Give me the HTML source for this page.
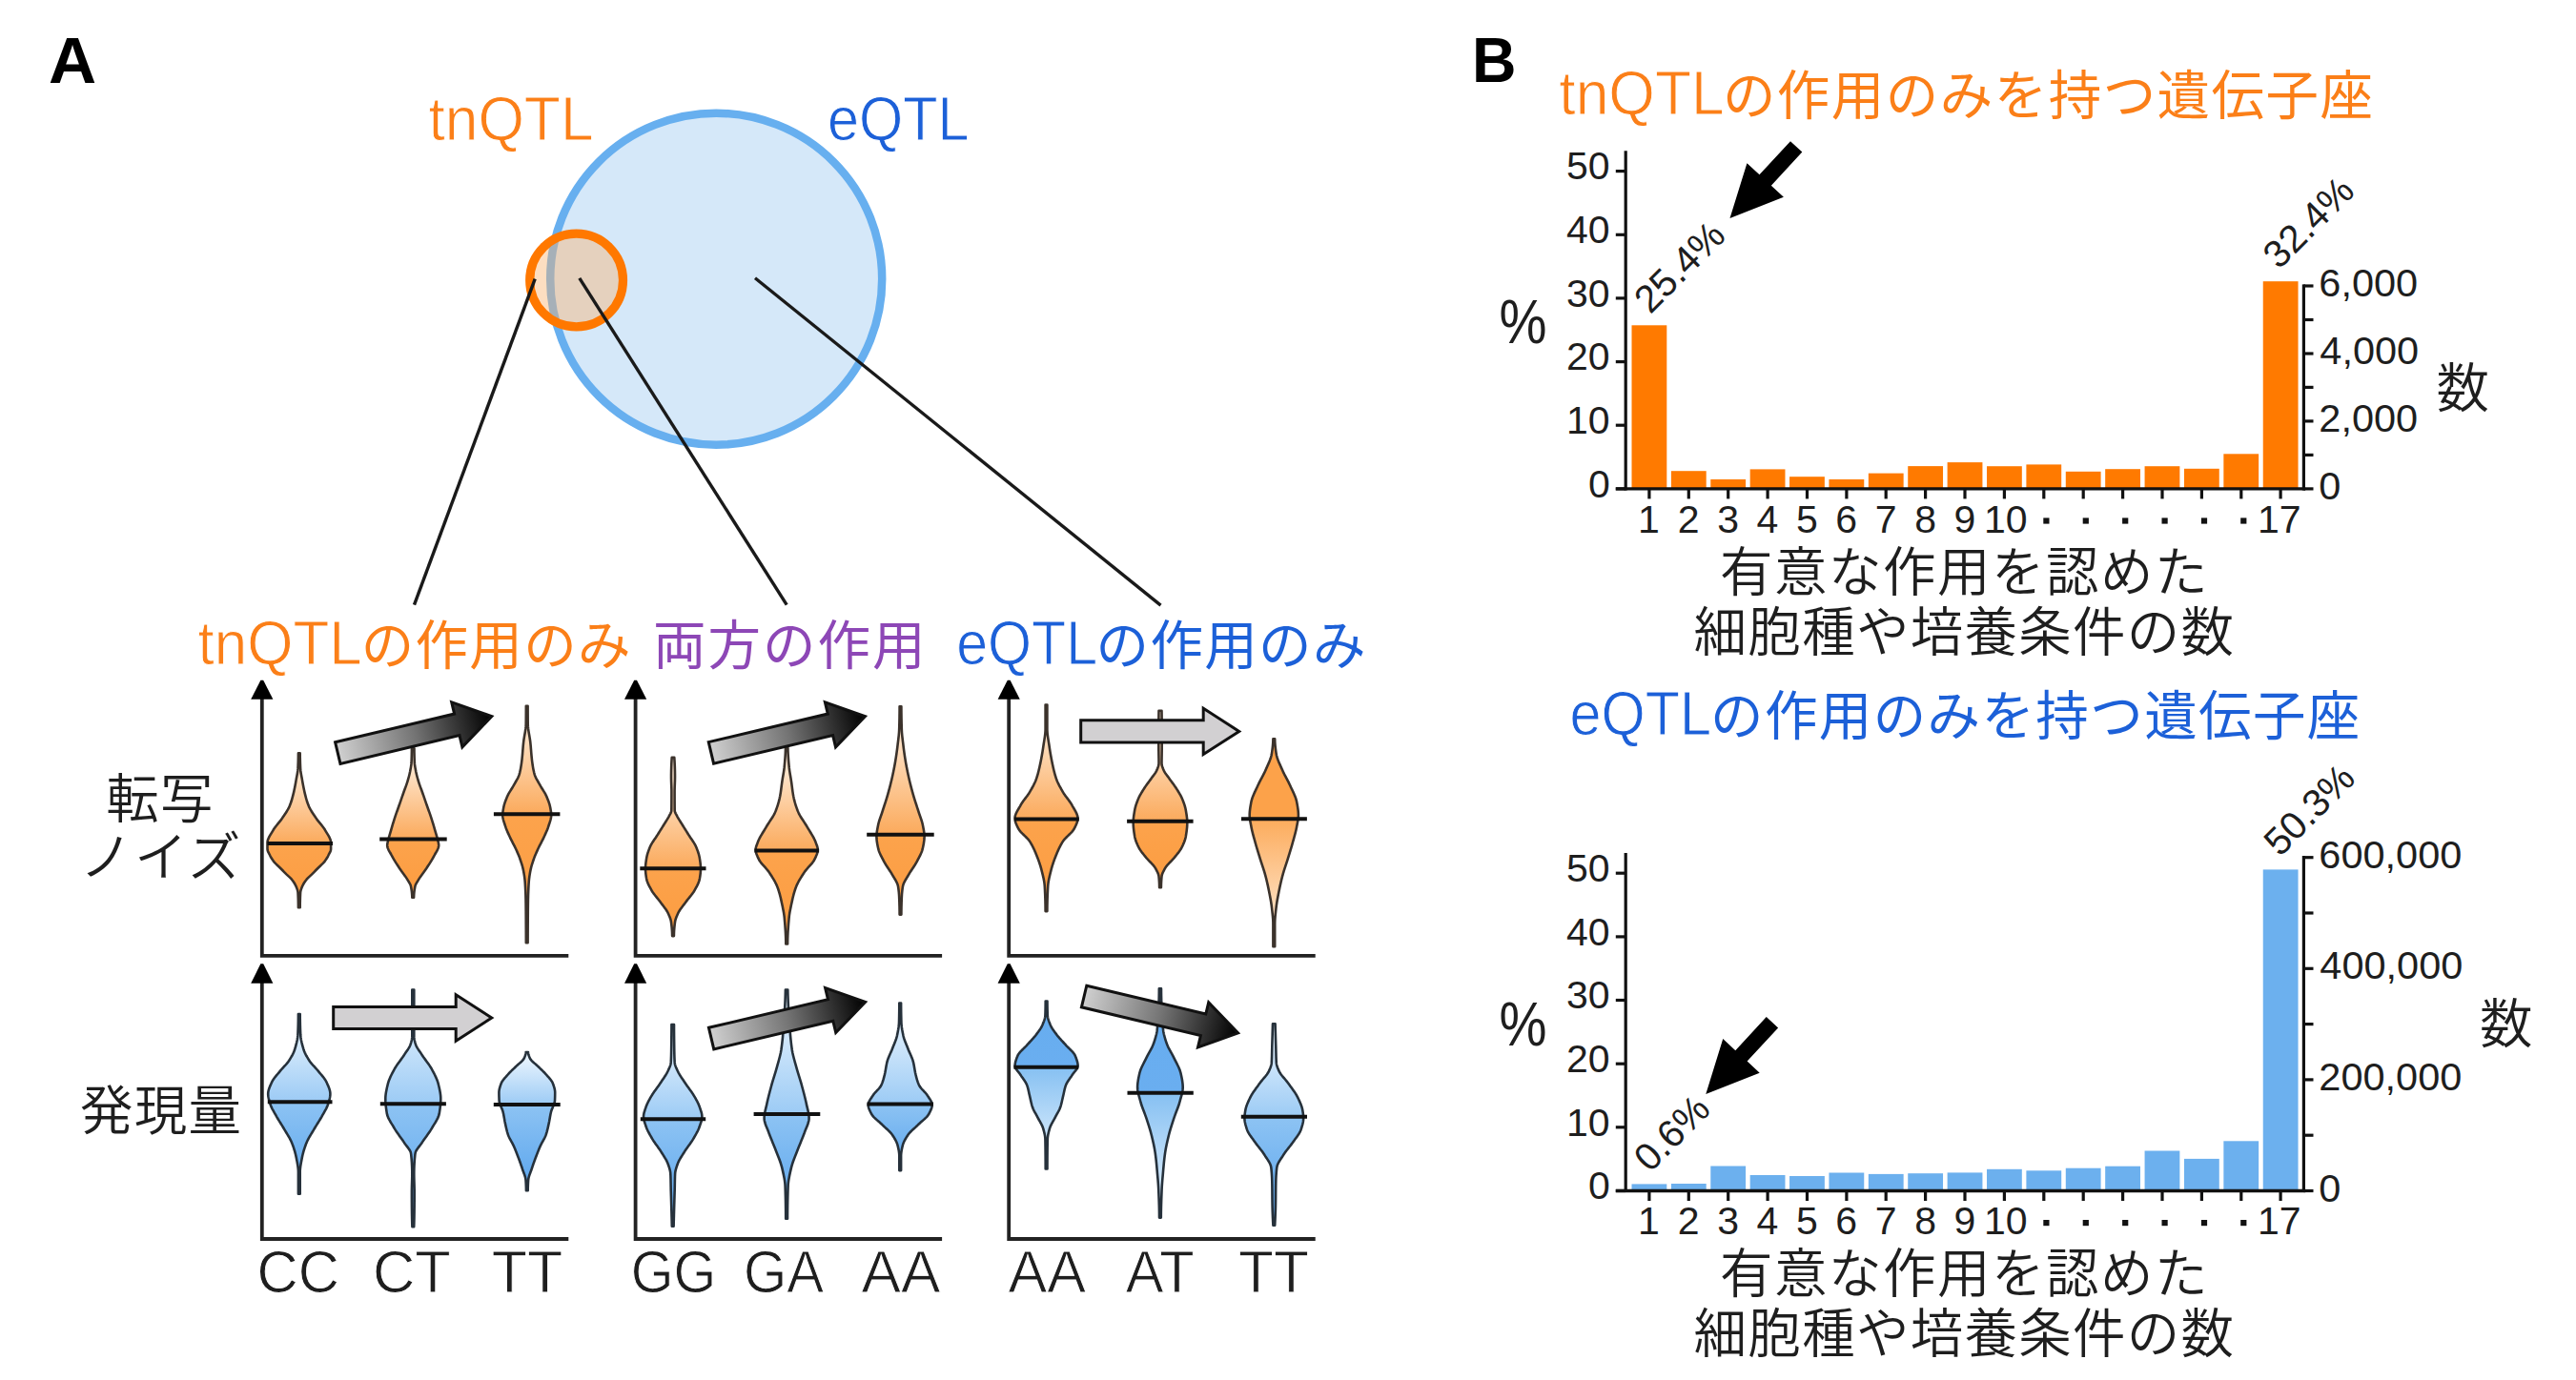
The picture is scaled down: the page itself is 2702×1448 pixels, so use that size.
<!DOCTYPE html>
<html lang="ja"><head><meta charset="utf-8"><title>tnQTL eQTL</title>
<style>html,body{margin:0;padding:0;background:#fff;}svg{display:block;}</style></head>
<body><svg width="2702" height="1448" viewBox="0 0 2702 1448">
<defs><linearGradient id="g1" gradientUnits="userSpaceOnUse" x1="0" y1="790.4" x2="0" y2="952.2"><stop offset="0.0000" stop-color="#ffeedd"/><stop offset="0.1462" stop-color="#fee3c8"/><stop offset="0.5847" stop-color="#fbaa5c"/><stop offset="0.5857" stop-color="#fca34c"/><stop offset="1.0000" stop-color="#fc9c40"/></linearGradient><linearGradient id="g2" gradientUnits="userSpaceOnUse" x1="0" y1="785.2" x2="0" y2="941.8"><stop offset="0.0000" stop-color="#ffeedd"/><stop offset="0.1520" stop-color="#fee3c8"/><stop offset="0.6079" stop-color="#fbaa5c"/><stop offset="0.6089" stop-color="#fca34c"/><stop offset="1.0000" stop-color="#fc9c40"/></linearGradient><linearGradient id="g3" gradientUnits="userSpaceOnUse" x1="0" y1="740.8" x2="0" y2="989.2"><stop offset="0.0000" stop-color="#ffeedd"/><stop offset="0.1141" stop-color="#fee3c8"/><stop offset="0.4565" stop-color="#fbaa5c"/><stop offset="0.4575" stop-color="#fca34c"/><stop offset="1.0000" stop-color="#fc9c40"/></linearGradient><linearGradient id="g4" gradientUnits="userSpaceOnUse" x1="0" y1="794.9" x2="0" y2="982.1"><stop offset="0.0000" stop-color="#ffeedd"/><stop offset="0.1554" stop-color="#fee3c8"/><stop offset="0.6218" stop-color="#fbaa5c"/><stop offset="0.6228" stop-color="#fca34c"/><stop offset="1.0000" stop-color="#fc9c40"/></linearGradient><linearGradient id="g5" gradientUnits="userSpaceOnUse" x1="0" y1="784.8" x2="0" y2="990.4"><stop offset="0.0000" stop-color="#ffeedd"/><stop offset="0.1308" stop-color="#fee3c8"/><stop offset="0.5233" stop-color="#fbaa5c"/><stop offset="0.5243" stop-color="#fca34c"/><stop offset="1.0000" stop-color="#fc9c40"/></linearGradient><linearGradient id="g6" gradientUnits="userSpaceOnUse" x1="0" y1="741.3" x2="0" y2="959.6"><stop offset="0.0000" stop-color="#ffeedd"/><stop offset="0.1539" stop-color="#fee3c8"/><stop offset="0.6157" stop-color="#fbaa5c"/><stop offset="0.6167" stop-color="#fca34c"/><stop offset="1.0000" stop-color="#fc9c40"/></linearGradient><linearGradient id="g7" gradientUnits="userSpaceOnUse" x1="0" y1="739.6" x2="0" y2="956.1"><stop offset="0.0000" stop-color="#ffeedd"/><stop offset="0.1386" stop-color="#fee3c8"/><stop offset="0.5543" stop-color="#fbaa5c"/><stop offset="0.5553" stop-color="#fca34c"/><stop offset="1.0000" stop-color="#fc9c40"/></linearGradient><linearGradient id="g8" gradientUnits="userSpaceOnUse" x1="0" y1="745.8" x2="0" y2="931.3"><stop offset="0.0000" stop-color="#ffeedd"/><stop offset="0.1562" stop-color="#fee3c8"/><stop offset="0.6248" stop-color="#fbaa5c"/><stop offset="0.6258" stop-color="#fca34c"/><stop offset="1.0000" stop-color="#fc9c40"/></linearGradient><linearGradient id="g9" gradientUnits="userSpaceOnUse" x1="0" y1="775.2" x2="0" y2="993.2"><stop offset="0.0000" stop-color="#fca24a"/><stop offset="0.3853" stop-color="#fca24a"/><stop offset="0.3863" stop-color="#fcac5c"/><stop offset="1.0000" stop-color="#fff0e2"/></linearGradient><linearGradient id="g10" gradientUnits="userSpaceOnUse" x1="0" y1="1064.1" x2="0" y2="1252.8"><stop offset="0.0000" stop-color="#eef7ff"/><stop offset="0.1220" stop-color="#dcedfc"/><stop offset="0.4881" stop-color="#9ccbf5"/><stop offset="0.4891" stop-color="#8dc3f3"/><stop offset="1.0000" stop-color="#5aa5ee"/></linearGradient><linearGradient id="g11" gradientUnits="userSpaceOnUse" x1="0" y1="1038.6" x2="0" y2="1287.3"><stop offset="0.0000" stop-color="#eef7ff"/><stop offset="0.1203" stop-color="#dcedfc"/><stop offset="0.4813" stop-color="#9ccbf5"/><stop offset="0.4823" stop-color="#8dc3f3"/><stop offset="1.0000" stop-color="#5aa5ee"/></linearGradient><linearGradient id="g12" gradientUnits="userSpaceOnUse" x1="0" y1="1104.0" x2="0" y2="1249.2"><stop offset="0.0000" stop-color="#eef7ff"/><stop offset="0.0947" stop-color="#dcedfc"/><stop offset="0.3788" stop-color="#9ccbf5"/><stop offset="0.3798" stop-color="#8dc3f3"/><stop offset="1.0000" stop-color="#5aa5ee"/></linearGradient><linearGradient id="g13" gradientUnits="userSpaceOnUse" x1="0" y1="1075.0" x2="0" y2="1286.7"><stop offset="0.0000" stop-color="#eef7ff"/><stop offset="0.1171" stop-color="#dcedfc"/><stop offset="0.4686" stop-color="#9ccbf5"/><stop offset="0.4696" stop-color="#8dc3f3"/><stop offset="1.0000" stop-color="#5aa5ee"/></linearGradient><linearGradient id="g14" gradientUnits="userSpaceOnUse" x1="0" y1="1038.5" x2="0" y2="1278.7"><stop offset="0.0000" stop-color="#eef7ff"/><stop offset="0.1358" stop-color="#dcedfc"/><stop offset="0.5433" stop-color="#9ccbf5"/><stop offset="0.5443" stop-color="#8dc3f3"/><stop offset="1.0000" stop-color="#5aa5ee"/></linearGradient><linearGradient id="g15" gradientUnits="userSpaceOnUse" x1="0" y1="1052.6" x2="0" y2="1228.1"><stop offset="0.0000" stop-color="#eef7ff"/><stop offset="0.1510" stop-color="#dcedfc"/><stop offset="0.6040" stop-color="#9ccbf5"/><stop offset="0.6050" stop-color="#8dc3f3"/><stop offset="1.0000" stop-color="#5aa5ee"/></linearGradient><linearGradient id="g16" gradientUnits="userSpaceOnUse" x1="0" y1="1050.6" x2="0" y2="1226.5"><stop offset="0.0000" stop-color="#66adef"/><stop offset="0.3934" stop-color="#6aaef0"/><stop offset="0.3944" stop-color="#86c0f2"/><stop offset="1.0000" stop-color="#eaf5fe"/></linearGradient><linearGradient id="g17" gradientUnits="userSpaceOnUse" x1="0" y1="1037.4" x2="0" y2="1277.6"><stop offset="0.0000" stop-color="#66adef"/><stop offset="0.4555" stop-color="#6aaef0"/><stop offset="0.4565" stop-color="#86c0f2"/><stop offset="1.0000" stop-color="#eaf5fe"/></linearGradient><linearGradient id="g18" gradientUnits="userSpaceOnUse" x1="0" y1="1074.2" x2="0" y2="1285.8"><stop offset="0.0000" stop-color="#eef7ff"/><stop offset="0.1152" stop-color="#dcedfc"/><stop offset="0.4608" stop-color="#9ccbf5"/><stop offset="0.4618" stop-color="#8dc3f3"/><stop offset="1.0000" stop-color="#5aa5ee"/></linearGradient><linearGradient id="agrad" x1="0" y1="0" x2="1" y2="0"><stop offset="0" stop-color="#d0d0d0"/><stop offset="0.5" stop-color="#747474"/><stop offset="1" stop-color="#000"/></linearGradient></defs>
<rect width="2702" height="1448" fill="#fff"/>
<circle cx="751.2" cy="292.7" r="174" fill="#d5e8f9" stroke="#67afef" stroke-width="8.5"/>
<circle cx="604.6" cy="294" r="48.9" fill="rgba(250,178,111,0.43)" stroke="#ff7800" stroke-width="9.2"/>
<line x1="561.2" y1="292.6" x2="434.5" y2="634.7" stroke="#1a1a1a" stroke-width="3.4"/>
<line x1="607.8" y1="291.8" x2="825.2" y2="634.7" stroke="#1a1a1a" stroke-width="3.4"/>
<line x1="792" y1="291.7" x2="1217.5" y2="635.1" stroke="#1a1a1a" stroke-width="3.4"/>
<path d="M274.8,730.8 L274.8,1002.8 L596.3,1002.8" fill="none" stroke="#222" stroke-width="3.8" stroke-linejoin="miter"/>
<path d="M273.4,713.8 L276.2,713.8 L286.4,733.8 L263.2,733.8 Z" fill="#000"/>
<path d="M274.8,1028.8 L274.8,1300.0 L596.3,1300.0" fill="none" stroke="#222" stroke-width="3.8" stroke-linejoin="miter"/>
<path d="M273.4,1011.2 L276.2,1011.2 L286.4,1031.8 L263.2,1031.8 Z" fill="#000"/>
<path d="M666.6,730.8 L666.6,1002.8 L988.1,1002.8" fill="none" stroke="#222" stroke-width="3.8" stroke-linejoin="miter"/>
<path d="M665.2,713.8 L668.0,713.8 L678.2,733.8 L655.0,733.8 Z" fill="#000"/>
<path d="M666.6,1028.8 L666.6,1300.0 L988.1,1300.0" fill="none" stroke="#222" stroke-width="3.8" stroke-linejoin="miter"/>
<path d="M665.2,1011.2 L668.0,1011.2 L678.2,1031.8 L655.0,1031.8 Z" fill="#000"/>
<path d="M1058.2,730.8 L1058.2,1002.8 L1379.7,1002.8" fill="none" stroke="#222" stroke-width="3.8" stroke-linejoin="miter"/>
<path d="M1056.8,713.8 L1059.6,713.8 L1069.8,733.8 L1046.6,733.8 Z" fill="#000"/>
<path d="M1058.2,1028.8 L1058.2,1300.0 L1379.7,1300.0" fill="none" stroke="#222" stroke-width="3.8" stroke-linejoin="miter"/>
<path d="M1056.8,1011.2 L1059.6,1011.2 L1069.8,1031.8 L1046.6,1031.8 Z" fill="#000"/>
<path d="M314.70,790.40 L314.70,791.42 L314.71,792.44 L314.72,793.45 L314.73,794.47 L314.75,795.49 L314.77,796.51 L314.79,797.52 L314.82,798.54 L314.85,799.56 L314.88,800.58 L314.92,801.59 L314.96,802.61 L314.99,803.63 L315.04,804.65 L315.08,805.66 L315.13,806.68 L315.21,807.70 L315.31,808.72 L315.44,809.73 L315.59,810.75 L315.75,811.77 L315.92,812.79 L316.11,813.81 L316.30,814.82 L316.50,815.84 L316.69,816.86 L316.88,817.88 L317.06,818.89 L317.24,819.91 L317.42,820.93 L317.60,821.95 L317.79,822.96 L317.97,823.98 L318.17,825.00 L318.36,826.02 L318.57,827.03 L318.78,828.05 L318.99,829.07 L319.21,830.09 L319.44,831.10 L319.68,832.12 L319.93,833.14 L320.18,834.16 L320.43,835.17 L320.70,836.19 L320.97,837.21 L321.25,838.23 L321.55,839.25 L321.86,840.26 L322.18,841.28 L322.53,842.30 L322.88,843.32 L323.26,844.33 L323.66,845.35 L324.10,846.37 L324.58,847.39 L325.11,848.40 L325.67,849.42 L326.26,850.44 L326.88,851.46 L327.52,852.47 L328.18,853.49 L328.86,854.51 L329.54,855.53 L330.22,856.54 L330.91,857.56 L331.59,858.58 L332.31,859.60 L333.07,860.62 L333.87,861.63 L334.69,862.65 L335.53,863.67 L336.37,864.69 L337.20,865.70 L338.02,866.72 L338.80,867.74 L339.55,868.76 L340.26,869.77 L340.90,870.79 L341.49,871.81 L342.10,872.83 L342.72,873.84 L343.35,874.86 L343.97,875.88 L344.57,876.90 L345.13,877.91 L345.65,878.93 L346.11,879.95 L346.50,880.97 L346.80,881.98 L347.00,883.00 L347.10,884.02 L347.10,885.04 L347.10,886.06 L347.10,887.07 L347.10,888.09 L347.10,889.11 L347.10,890.13 L347.09,891.14 L346.94,892.16 L346.62,893.18 L346.17,894.20 L345.65,895.21 L345.10,896.23 L344.57,897.25 L344.07,898.27 L343.52,899.28 L342.94,900.30 L342.31,901.32 L341.63,902.34 L340.91,903.35 L340.12,904.37 L339.22,905.39 L338.21,906.41 L337.14,907.43 L336.05,908.44 L334.96,909.46 L333.92,910.48 L332.92,911.50 L331.91,912.51 L330.92,913.53 L329.92,914.55 L328.92,915.57 L327.91,916.58 L326.89,917.60 L325.81,918.62 L324.71,919.64 L323.63,920.65 L322.60,921.67 L321.66,922.69 L320.85,923.71 L320.11,924.72 L319.41,925.74 L318.77,926.76 L318.17,927.78 L317.64,928.79 L317.18,929.81 L316.76,930.83 L316.34,931.85 L315.95,932.87 L315.61,933.88 L315.33,934.90 L315.15,935.92 L315.08,936.94 L315.03,937.95 L314.98,938.97 L314.94,939.99 L314.90,941.01 L314.86,942.02 L314.83,943.04 L314.80,944.06 L314.78,945.08 L314.76,946.09 L314.74,947.11 L314.73,948.13 L314.71,949.15 L314.71,950.16 L314.70,951.18 L314.70,952.20 L312.90,952.20 L312.90,951.18 L312.89,950.16 L312.89,949.15 L312.87,948.13 L312.86,947.11 L312.84,946.09 L312.82,945.08 L312.80,944.06 L312.77,943.04 L312.74,942.02 L312.70,941.01 L312.66,939.99 L312.62,938.97 L312.57,937.95 L312.52,936.94 L312.45,935.92 L312.27,934.90 L311.99,933.88 L311.65,932.87 L311.26,931.85 L310.84,930.83 L310.42,929.81 L309.96,928.79 L309.43,927.78 L308.83,926.76 L308.19,925.74 L307.49,924.72 L306.75,923.71 L305.94,922.69 L305.00,921.67 L303.97,920.65 L302.89,919.64 L301.79,918.62 L300.71,917.60 L299.69,916.58 L298.68,915.57 L297.68,914.55 L296.68,913.53 L295.69,912.51 L294.68,911.50 L293.68,910.48 L292.64,909.46 L291.55,908.44 L290.46,907.43 L289.39,906.41 L288.38,905.39 L287.48,904.37 L286.69,903.35 L285.97,902.34 L285.29,901.32 L284.66,900.30 L284.08,899.28 L283.53,898.27 L283.03,897.25 L282.50,896.23 L281.95,895.21 L281.43,894.20 L280.98,893.18 L280.66,892.16 L280.51,891.14 L280.50,890.13 L280.50,889.11 L280.50,888.09 L280.50,887.07 L280.50,886.06 L280.50,885.04 L280.50,884.02 L280.60,883.00 L280.80,881.98 L281.10,880.97 L281.49,879.95 L281.95,878.93 L282.47,877.91 L283.03,876.90 L283.63,875.88 L284.25,874.86 L284.88,873.84 L285.50,872.83 L286.11,871.81 L286.70,870.79 L287.34,869.77 L288.05,868.76 L288.80,867.74 L289.58,866.72 L290.40,865.70 L291.23,864.69 L292.07,863.67 L292.91,862.65 L293.73,861.63 L294.53,860.62 L295.29,859.60 L296.01,858.58 L296.69,857.56 L297.38,856.54 L298.06,855.53 L298.74,854.51 L299.42,853.49 L300.08,852.47 L300.72,851.46 L301.34,850.44 L301.93,849.42 L302.49,848.40 L303.02,847.39 L303.50,846.37 L303.94,845.35 L304.34,844.33 L304.72,843.32 L305.07,842.30 L305.42,841.28 L305.74,840.26 L306.05,839.25 L306.35,838.23 L306.63,837.21 L306.90,836.19 L307.17,835.17 L307.42,834.16 L307.67,833.14 L307.92,832.12 L308.16,831.10 L308.39,830.09 L308.61,829.07 L308.82,828.05 L309.03,827.03 L309.24,826.02 L309.43,825.00 L309.63,823.98 L309.81,822.96 L310.00,821.95 L310.18,820.93 L310.36,819.91 L310.54,818.89 L310.72,817.88 L310.91,816.86 L311.10,815.84 L311.30,814.82 L311.49,813.81 L311.68,812.79 L311.85,811.77 L312.01,810.75 L312.16,809.73 L312.29,808.72 L312.39,807.70 L312.47,806.68 L312.52,805.66 L312.56,804.65 L312.61,803.63 L312.64,802.61 L312.68,801.59 L312.72,800.58 L312.75,799.56 L312.78,798.54 L312.81,797.52 L312.83,796.51 L312.85,795.49 L312.87,794.47 L312.88,793.45 L312.89,792.44 L312.90,791.42 L312.90,790.40 Z" fill="url(#g1)" stroke="#3b322b" stroke-width="2.6" stroke-linejoin="round"/>
<line x1="280.5" y1="885.0" x2="349.0" y2="885.0" stroke="#111" stroke-width="4"/>
<path d="M434.50,785.20 L434.50,786.18 L434.51,787.17 L434.51,788.15 L434.52,789.14 L434.54,790.12 L434.56,791.11 L434.57,792.09 L434.60,793.08 L434.62,794.06 L434.65,795.05 L434.68,796.03 L434.71,797.02 L434.74,798.00 L434.78,798.99 L434.82,799.97 L434.88,800.96 L434.98,801.94 L435.11,802.93 L435.25,803.91 L435.41,804.90 L435.58,805.88 L435.76,806.87 L435.95,807.85 L436.13,808.84 L436.31,809.82 L436.52,810.81 L436.74,811.79 L436.98,812.78 L437.22,813.76 L437.48,814.75 L437.75,815.73 L438.02,816.72 L438.30,817.70 L438.58,818.69 L438.87,819.67 L439.17,820.66 L439.49,821.64 L439.83,822.63 L440.17,823.61 L440.52,824.60 L440.88,825.58 L441.24,826.57 L441.61,827.55 L441.97,828.54 L442.34,829.52 L442.70,830.51 L443.05,831.49 L443.40,832.48 L443.74,833.46 L444.08,834.45 L444.42,835.43 L444.76,836.42 L445.10,837.40 L445.44,838.38 L445.78,839.37 L446.12,840.35 L446.46,841.34 L446.80,842.32 L447.14,843.31 L447.48,844.29 L447.83,845.28 L448.17,846.26 L448.52,847.25 L448.88,848.23 L449.23,849.22 L449.58,850.20 L449.94,851.19 L450.29,852.17 L450.64,853.16 L450.99,854.14 L451.34,855.13 L451.67,856.11 L452.01,857.10 L452.33,858.08 L452.65,859.07 L452.96,860.05 L453.26,861.04 L453.57,862.02 L453.87,863.01 L454.16,863.99 L454.45,864.98 L454.74,865.96 L455.03,866.95 L455.32,867.93 L455.61,868.92 L455.89,869.90 L456.18,870.89 L456.47,871.87 L456.76,872.86 L457.06,873.84 L457.36,874.83 L457.66,875.81 L457.95,876.80 L458.23,877.78 L458.49,878.77 L458.75,879.75 L458.98,880.74 L459.23,881.72 L459.49,882.71 L459.74,883.69 L459.95,884.68 L460.11,885.66 L460.19,886.65 L460.17,887.63 L460.01,888.62 L459.74,889.60 L459.37,890.58 L458.92,891.57 L458.41,892.55 L457.87,893.54 L457.30,894.52 L456.73,895.51 L456.18,896.49 L455.66,897.48 L455.15,898.46 L454.62,899.45 L454.07,900.43 L453.49,901.42 L452.91,902.40 L452.30,903.39 L451.69,904.37 L451.07,905.36 L450.43,906.34 L449.80,907.33 L449.16,908.31 L448.52,909.30 L447.88,910.28 L447.23,911.27 L446.55,912.25 L445.85,913.24 L445.14,914.22 L444.42,915.21 L443.69,916.19 L442.97,917.18 L442.25,918.16 L441.54,919.15 L440.85,920.13 L440.18,921.12 L439.55,922.10 L438.94,923.09 L438.36,924.07 L437.76,925.06 L437.15,926.04 L436.58,927.03 L436.08,928.01 L435.67,929.00 L435.40,929.98 L435.22,930.97 L435.04,931.95 L434.88,932.94 L434.73,933.92 L434.59,934.91 L434.47,935.89 L434.36,936.88 L434.27,937.86 L434.20,938.85 L434.14,939.83 L434.11,940.82 L434.10,941.80 L432.30,941.80 L432.29,940.82 L432.26,939.83 L432.20,938.85 L432.13,937.86 L432.04,936.88 L431.93,935.89 L431.81,934.91 L431.67,933.92 L431.52,932.94 L431.36,931.95 L431.18,930.97 L431.00,929.98 L430.73,929.00 L430.32,928.01 L429.82,927.03 L429.25,926.04 L428.64,925.06 L428.04,924.07 L427.46,923.09 L426.85,922.10 L426.22,921.12 L425.55,920.13 L424.86,919.15 L424.15,918.16 L423.43,917.18 L422.71,916.19 L421.98,915.21 L421.26,914.22 L420.55,913.24 L419.85,912.25 L419.17,911.27 L418.52,910.28 L417.88,909.30 L417.24,908.31 L416.60,907.33 L415.97,906.34 L415.33,905.36 L414.71,904.37 L414.10,903.39 L413.49,902.40 L412.91,901.42 L412.33,900.43 L411.78,899.45 L411.25,898.46 L410.74,897.48 L410.22,896.49 L409.67,895.51 L409.10,894.52 L408.53,893.54 L407.99,892.55 L407.48,891.57 L407.03,890.58 L406.66,889.60 L406.39,888.62 L406.23,887.63 L406.21,886.65 L406.29,885.66 L406.45,884.68 L406.66,883.69 L406.91,882.71 L407.17,881.72 L407.42,880.74 L407.65,879.75 L407.91,878.77 L408.17,877.78 L408.45,876.80 L408.74,875.81 L409.04,874.83 L409.34,873.84 L409.64,872.86 L409.93,871.87 L410.22,870.89 L410.51,869.90 L410.79,868.92 L411.08,867.93 L411.37,866.95 L411.66,865.96 L411.95,864.98 L412.24,863.99 L412.53,863.01 L412.83,862.02 L413.14,861.04 L413.44,860.05 L413.75,859.07 L414.07,858.08 L414.39,857.10 L414.73,856.11 L415.06,855.13 L415.41,854.14 L415.76,853.16 L416.11,852.17 L416.46,851.19 L416.82,850.20 L417.17,849.22 L417.52,848.23 L417.88,847.25 L418.23,846.26 L418.57,845.28 L418.92,844.29 L419.26,843.31 L419.60,842.32 L419.94,841.34 L420.28,840.35 L420.62,839.37 L420.96,838.38 L421.30,837.40 L421.64,836.42 L421.98,835.43 L422.32,834.45 L422.66,833.46 L423.00,832.48 L423.35,831.49 L423.70,830.51 L424.06,829.52 L424.43,828.54 L424.79,827.55 L425.16,826.57 L425.52,825.58 L425.88,824.60 L426.23,823.61 L426.57,822.63 L426.91,821.64 L427.23,820.66 L427.53,819.67 L427.82,818.69 L428.10,817.70 L428.38,816.72 L428.65,815.73 L428.92,814.75 L429.18,813.76 L429.42,812.78 L429.66,811.79 L429.88,810.81 L430.09,809.82 L430.27,808.84 L430.45,807.85 L430.64,806.87 L430.82,805.88 L430.99,804.90 L431.15,803.91 L431.29,802.93 L431.42,801.94 L431.52,800.96 L431.58,799.97 L431.62,798.99 L431.66,798.00 L431.69,797.02 L431.72,796.03 L431.75,795.05 L431.78,794.06 L431.80,793.08 L431.83,792.09 L431.84,791.11 L431.86,790.12 L431.88,789.14 L431.89,788.15 L431.89,787.17 L431.90,786.18 L431.90,785.20 Z" fill="url(#g2)" stroke="#3b322b" stroke-width="2.6" stroke-linejoin="round"/>
<line x1="398.2" y1="880.4" x2="468.7" y2="880.4" stroke="#111" stroke-width="4"/>
<path d="M553.60,740.80 L553.60,742.36 L553.60,743.92 L553.61,745.49 L553.61,747.05 L553.62,748.61 L553.63,750.17 L553.64,751.74 L553.65,753.30 L553.66,754.86 L553.67,756.42 L553.69,757.98 L553.70,759.55 L553.76,761.11 L553.88,762.67 L554.04,764.23 L554.24,765.80 L554.47,767.36 L554.73,768.92 L555.00,770.48 L555.27,772.05 L555.54,773.61 L555.79,775.17 L556.03,776.73 L556.23,778.29 L556.40,779.86 L556.55,781.42 L556.70,782.98 L556.83,784.54 L556.95,786.11 L557.08,787.67 L557.20,789.23 L557.33,790.79 L557.46,792.35 L557.60,793.92 L557.76,795.48 L557.93,797.04 L558.11,798.60 L558.31,800.17 L558.53,801.73 L558.76,803.29 L559.01,804.85 L559.29,806.42 L559.60,807.98 L559.94,809.54 L560.31,811.10 L560.73,812.66 L561.29,814.23 L561.98,815.79 L562.78,817.35 L563.65,818.91 L564.55,820.48 L565.46,822.04 L566.34,823.60 L567.21,825.16 L568.14,826.72 L569.12,828.29 L570.10,829.85 L571.06,831.41 L571.96,832.97 L572.77,834.54 L573.47,836.10 L574.12,837.66 L574.74,839.22 L575.33,840.78 L575.88,842.35 L576.37,843.91 L576.79,845.47 L577.13,847.03 L577.42,848.60 L577.69,850.16 L577.94,851.72 L578.11,853.28 L578.20,854.85 L578.15,856.41 L577.95,857.97 L577.63,859.53 L577.21,861.09 L576.73,862.66 L576.21,864.22 L575.69,865.78 L575.19,867.34 L574.66,868.91 L574.06,870.47 L573.42,872.03 L572.74,873.59 L572.03,875.15 L571.31,876.72 L570.59,878.28 L569.86,879.84 L569.09,881.40 L568.28,882.97 L567.46,884.53 L566.64,886.09 L565.83,887.65 L565.06,889.22 L564.33,890.78 L563.62,892.34 L562.92,893.90 L562.23,895.46 L561.57,897.03 L560.93,898.59 L560.33,900.15 L559.77,901.71 L559.24,903.28 L558.73,904.84 L558.23,906.40 L557.75,907.96 L557.31,909.52 L556.91,911.09 L556.55,912.65 L556.24,914.21 L555.96,915.77 L555.70,917.34 L555.45,918.90 L555.23,920.46 L555.03,922.02 L554.86,923.58 L554.73,925.15 L554.63,926.71 L554.53,928.27 L554.44,929.83 L554.36,931.40 L554.29,932.96 L554.22,934.52 L554.15,936.08 L554.09,937.65 L554.04,939.21 L554.00,940.77 L553.96,942.33 L553.92,943.89 L553.90,945.46 L553.87,947.02 L553.85,948.58 L553.83,950.14 L553.81,951.71 L553.79,953.27 L553.78,954.83 L553.76,956.39 L553.75,957.95 L553.74,959.52 L553.72,961.08 L553.71,962.64 L553.70,964.20 L553.69,965.77 L553.69,967.33 L553.68,968.89 L553.67,970.45 L553.66,972.02 L553.65,973.58 L553.64,975.14 L553.64,976.70 L553.63,978.26 L553.62,979.83 L553.62,981.39 L553.61,982.95 L553.61,984.51 L553.60,986.08 L553.60,987.64 L553.60,989.20 L551.80,989.20 L551.80,987.64 L551.80,986.08 L551.79,984.51 L551.79,982.95 L551.78,981.39 L551.78,979.83 L551.77,978.26 L551.76,976.70 L551.76,975.14 L551.75,973.58 L551.74,972.02 L551.73,970.45 L551.72,968.89 L551.71,967.33 L551.71,965.77 L551.70,964.20 L551.69,962.64 L551.68,961.08 L551.66,959.52 L551.65,957.95 L551.64,956.39 L551.62,954.83 L551.61,953.27 L551.59,951.71 L551.57,950.14 L551.55,948.58 L551.53,947.02 L551.50,945.46 L551.48,943.89 L551.44,942.33 L551.40,940.77 L551.36,939.21 L551.31,937.65 L551.25,936.08 L551.18,934.52 L551.11,932.96 L551.04,931.40 L550.96,929.83 L550.87,928.27 L550.77,926.71 L550.67,925.15 L550.54,923.58 L550.37,922.02 L550.17,920.46 L549.95,918.90 L549.70,917.34 L549.44,915.77 L549.16,914.21 L548.85,912.65 L548.49,911.09 L548.09,909.52 L547.65,907.96 L547.17,906.40 L546.67,904.84 L546.16,903.28 L545.63,901.71 L545.07,900.15 L544.47,898.59 L543.83,897.03 L543.17,895.46 L542.48,893.90 L541.78,892.34 L541.07,890.78 L540.34,889.22 L539.57,887.65 L538.76,886.09 L537.94,884.53 L537.12,882.97 L536.31,881.40 L535.54,879.84 L534.81,878.28 L534.09,876.72 L533.37,875.15 L532.66,873.59 L531.98,872.03 L531.34,870.47 L530.74,868.91 L530.21,867.34 L529.71,865.78 L529.19,864.22 L528.67,862.66 L528.19,861.09 L527.77,859.53 L527.45,857.97 L527.25,856.41 L527.20,854.85 L527.29,853.28 L527.46,851.72 L527.71,850.16 L527.98,848.60 L528.27,847.03 L528.61,845.47 L529.03,843.91 L529.52,842.35 L530.07,840.78 L530.66,839.22 L531.28,837.66 L531.93,836.10 L532.63,834.54 L533.44,832.97 L534.34,831.41 L535.30,829.85 L536.28,828.29 L537.26,826.72 L538.19,825.16 L539.06,823.60 L539.94,822.04 L540.85,820.48 L541.75,818.91 L542.62,817.35 L543.42,815.79 L544.11,814.23 L544.67,812.66 L545.09,811.10 L545.46,809.54 L545.80,807.98 L546.11,806.42 L546.39,804.85 L546.64,803.29 L546.87,801.73 L547.09,800.17 L547.29,798.60 L547.47,797.04 L547.64,795.48 L547.80,793.92 L547.94,792.35 L548.07,790.79 L548.20,789.23 L548.32,787.67 L548.45,786.11 L548.57,784.54 L548.70,782.98 L548.85,781.42 L549.00,779.86 L549.17,778.29 L549.37,776.73 L549.61,775.17 L549.86,773.61 L550.13,772.05 L550.40,770.48 L550.67,768.92 L550.93,767.36 L551.16,765.80 L551.36,764.23 L551.52,762.67 L551.64,761.11 L551.70,759.55 L551.71,757.98 L551.73,756.42 L551.74,754.86 L551.75,753.30 L551.76,751.74 L551.77,750.17 L551.78,748.61 L551.79,747.05 L551.79,745.49 L551.80,743.92 L551.80,742.36 L551.80,740.80 Z" fill="url(#g3)" stroke="#3b322b" stroke-width="2.6" stroke-linejoin="round"/>
<line x1="517.9" y1="854.2" x2="587.4" y2="854.2" stroke="#111" stroke-width="4"/>
<path d="M707.30,794.90 L707.38,796.08 L707.45,797.25 L707.52,798.43 L707.59,799.61 L707.65,800.79 L707.70,801.96 L707.75,803.14 L707.80,804.32 L707.84,805.50 L707.87,806.67 L707.91,807.85 L707.93,809.03 L707.96,810.21 L707.97,811.38 L707.99,812.56 L708.00,813.74 L708.00,814.92 L708.00,816.09 L707.98,817.27 L707.96,818.45 L707.93,819.62 L707.89,820.80 L707.84,821.98 L707.80,823.16 L707.75,824.33 L707.71,825.51 L707.67,826.69 L707.64,827.87 L707.61,829.04 L707.60,830.22 L707.60,831.40 L707.60,832.58 L707.60,833.75 L707.60,834.93 L707.61,836.11 L707.61,837.28 L707.61,838.46 L707.62,839.64 L707.62,840.82 L707.63,841.99 L707.63,843.17 L707.64,844.35 L707.65,845.53 L707.66,846.70 L707.67,847.88 L707.68,849.06 L707.70,850.24 L707.83,851.41 L708.23,852.59 L708.80,853.77 L709.45,854.95 L710.11,856.12 L710.71,857.30 L711.38,858.48 L712.09,859.65 L712.83,860.83 L713.58,862.01 L714.33,863.19 L715.06,864.36 L715.79,865.54 L716.52,866.72 L717.25,867.90 L717.98,869.07 L718.72,870.25 L719.45,871.43 L720.19,872.61 L720.93,873.78 L721.66,874.96 L722.40,876.14 L723.15,877.32 L723.93,878.49 L724.74,879.67 L725.55,880.85 L726.36,882.02 L727.15,883.20 L727.91,884.38 L728.62,885.56 L729.27,886.73 L729.84,887.91 L730.34,889.09 L730.82,890.27 L731.28,891.44 L731.72,892.62 L732.13,893.80 L732.52,894.98 L732.88,896.15 L733.20,897.33 L733.48,898.51 L733.73,899.68 L733.92,900.86 L734.11,902.04 L734.28,903.22 L734.45,904.39 L734.60,905.57 L734.74,906.75 L734.85,907.93 L734.93,909.10 L734.99,910.28 L735.00,911.46 L734.98,912.64 L734.92,913.81 L734.83,914.99 L734.72,916.17 L734.59,917.35 L734.43,918.52 L734.26,919.70 L734.08,920.88 L733.89,922.05 L733.65,923.23 L733.31,924.41 L732.90,925.59 L732.42,926.76 L731.89,927.94 L731.31,929.12 L730.69,930.30 L730.06,931.47 L729.40,932.65 L728.75,933.83 L728.07,935.01 L727.32,936.18 L726.49,937.36 L725.61,938.54 L724.69,939.72 L723.74,940.89 L722.79,942.07 L721.84,943.25 L720.91,944.42 L720.01,945.60 L719.15,946.78 L718.28,947.96 L717.38,949.13 L716.48,950.31 L715.58,951.49 L714.70,952.67 L713.85,953.84 L713.05,955.02 L712.31,956.20 L711.65,957.38 L711.08,958.55 L710.55,959.73 L710.04,960.91 L709.56,962.08 L709.11,963.26 L708.72,964.44 L708.38,965.62 L708.13,966.79 L707.95,967.97 L707.80,969.15 L707.66,970.33 L707.53,971.50 L707.41,972.68 L707.30,973.86 L707.20,975.04 L707.11,976.21 L707.04,977.39 L706.98,978.57 L706.94,979.75 L706.91,980.92 L706.90,982.10 L705.10,982.10 L705.09,980.92 L705.06,979.75 L705.02,978.57 L704.96,977.39 L704.89,976.21 L704.80,975.04 L704.70,973.86 L704.59,972.68 L704.47,971.50 L704.34,970.33 L704.20,969.15 L704.05,967.97 L703.87,966.79 L703.62,965.62 L703.28,964.44 L702.89,963.26 L702.44,962.08 L701.96,960.91 L701.45,959.73 L700.92,958.55 L700.35,957.38 L699.69,956.20 L698.95,955.02 L698.15,953.84 L697.30,952.67 L696.42,951.49 L695.52,950.31 L694.62,949.13 L693.72,947.96 L692.85,946.78 L691.99,945.60 L691.09,944.42 L690.16,943.25 L689.21,942.07 L688.26,940.89 L687.31,939.72 L686.39,938.54 L685.51,937.36 L684.68,936.18 L683.93,935.01 L683.25,933.83 L682.60,932.65 L681.94,931.47 L681.31,930.30 L680.69,929.12 L680.11,927.94 L679.58,926.76 L679.10,925.59 L678.69,924.41 L678.35,923.23 L678.11,922.05 L677.92,920.88 L677.74,919.70 L677.57,918.52 L677.41,917.35 L677.28,916.17 L677.17,914.99 L677.08,913.81 L677.02,912.64 L677.00,911.46 L677.01,910.28 L677.07,909.10 L677.15,907.93 L677.26,906.75 L677.40,905.57 L677.55,904.39 L677.72,903.22 L677.89,902.04 L678.08,900.86 L678.27,899.68 L678.52,898.51 L678.80,897.33 L679.12,896.15 L679.48,894.98 L679.87,893.80 L680.28,892.62 L680.72,891.44 L681.18,890.27 L681.66,889.09 L682.16,887.91 L682.73,886.73 L683.38,885.56 L684.09,884.38 L684.85,883.20 L685.64,882.02 L686.45,880.85 L687.26,879.67 L688.07,878.49 L688.85,877.32 L689.60,876.14 L690.34,874.96 L691.07,873.78 L691.81,872.61 L692.55,871.43 L693.28,870.25 L694.02,869.07 L694.75,867.90 L695.48,866.72 L696.21,865.54 L696.94,864.36 L697.67,863.19 L698.42,862.01 L699.17,860.83 L699.91,859.65 L700.62,858.48 L701.29,857.30 L701.89,856.12 L702.55,854.95 L703.20,853.77 L703.77,852.59 L704.17,851.41 L704.30,850.24 L704.32,849.06 L704.33,847.88 L704.34,846.70 L704.35,845.53 L704.36,844.35 L704.37,843.17 L704.37,841.99 L704.38,840.82 L704.38,839.64 L704.39,838.46 L704.39,837.28 L704.39,836.11 L704.40,834.93 L704.40,833.75 L704.40,832.58 L704.40,831.40 L704.40,830.22 L704.39,829.04 L704.36,827.87 L704.33,826.69 L704.29,825.51 L704.25,824.33 L704.20,823.16 L704.16,821.98 L704.11,820.80 L704.07,819.62 L704.04,818.45 L704.02,817.27 L704.00,816.09 L704.00,814.92 L704.00,813.74 L704.01,812.56 L704.03,811.38 L704.04,810.21 L704.07,809.03 L704.09,807.85 L704.13,806.67 L704.16,805.50 L704.20,804.32 L704.25,803.14 L704.30,801.96 L704.35,800.79 L704.41,799.61 L704.48,798.43 L704.55,797.25 L704.62,796.08 L704.70,794.90 Z" fill="url(#g4)" stroke="#3b322b" stroke-width="2.6" stroke-linejoin="round"/>
<line x1="671.3" y1="911.3" x2="740.5" y2="911.3" stroke="#111" stroke-width="4"/>
<path d="M826.40,784.80 L826.43,786.09 L826.46,787.39 L826.51,788.68 L826.57,789.97 L826.63,791.27 L826.71,792.56 L826.79,793.85 L826.88,795.14 L826.97,796.44 L827.07,797.73 L827.18,799.02 L827.29,800.32 L827.40,801.61 L827.51,802.90 L827.63,804.20 L827.76,805.49 L827.92,806.78 L828.09,808.08 L828.28,809.37 L828.48,810.66 L828.69,811.95 L828.91,813.25 L829.13,814.54 L829.35,815.83 L829.57,817.13 L829.77,818.42 L829.97,819.71 L830.16,821.01 L830.34,822.30 L830.51,823.59 L830.67,824.89 L830.84,826.18 L831.00,827.47 L831.18,828.76 L831.35,830.06 L831.54,831.35 L831.74,832.64 L831.96,833.94 L832.19,835.23 L832.45,836.52 L832.72,837.82 L833.02,839.11 L833.35,840.40 L833.69,841.70 L834.06,842.99 L834.45,844.28 L834.87,845.57 L835.30,846.87 L835.75,848.16 L836.23,849.45 L836.72,850.75 L837.24,852.04 L837.82,853.33 L838.48,854.63 L839.20,855.92 L839.97,857.21 L840.78,858.51 L841.62,859.80 L842.47,861.09 L843.33,862.38 L844.19,863.68 L845.03,864.97 L845.84,866.26 L846.62,867.56 L847.37,868.85 L848.15,870.14 L848.94,871.44 L849.74,872.73 L850.53,874.02 L851.32,875.32 L852.08,876.61 L852.82,877.90 L853.51,879.19 L854.17,880.49 L854.77,881.78 L855.30,883.07 L855.79,884.37 L856.29,885.66 L856.79,886.95 L857.22,888.25 L857.56,889.54 L857.76,890.83 L857.79,892.13 L857.63,893.42 L857.34,894.71 L856.93,896.01 L856.43,897.30 L855.88,898.59 L855.29,899.88 L854.71,901.18 L854.05,902.47 L853.23,903.76 L852.27,905.06 L851.22,906.35 L850.10,907.64 L848.94,908.94 L847.76,910.23 L846.61,911.52 L845.51,912.82 L844.48,914.11 L843.56,915.40 L842.72,916.69 L841.89,917.99 L841.06,919.28 L840.25,920.57 L839.46,921.87 L838.69,923.16 L837.96,924.45 L837.25,925.75 L836.59,927.04 L835.97,928.33 L835.40,929.63 L834.88,930.92 L834.41,932.21 L833.97,933.50 L833.56,934.80 L833.17,936.09 L832.79,937.38 L832.44,938.68 L832.11,939.97 L831.78,941.26 L831.47,942.56 L831.18,943.85 L830.89,945.14 L830.61,946.44 L830.33,947.73 L830.05,949.02 L829.78,950.31 L829.50,951.61 L829.24,952.90 L828.98,954.19 L828.73,955.49 L828.49,956.78 L828.27,958.07 L828.07,959.37 L827.89,960.66 L827.73,961.95 L827.60,963.25 L827.49,964.54 L827.38,965.83 L827.27,967.12 L827.16,968.42 L827.06,969.71 L826.96,971.00 L826.86,972.30 L826.77,973.59 L826.68,974.88 L826.59,976.18 L826.51,977.47 L826.44,978.76 L826.37,980.06 L826.31,981.35 L826.26,982.64 L826.21,983.93 L826.17,985.23 L826.14,986.52 L826.12,987.81 L826.10,989.11 L826.10,990.40 L824.30,990.40 L824.30,989.11 L824.28,987.81 L824.26,986.52 L824.23,985.23 L824.19,983.93 L824.14,982.64 L824.09,981.35 L824.03,980.06 L823.96,978.76 L823.89,977.47 L823.81,976.18 L823.72,974.88 L823.63,973.59 L823.54,972.30 L823.44,971.00 L823.34,969.71 L823.24,968.42 L823.13,967.12 L823.02,965.83 L822.91,964.54 L822.80,963.25 L822.67,961.95 L822.51,960.66 L822.33,959.37 L822.13,958.07 L821.91,956.78 L821.67,955.49 L821.42,954.19 L821.16,952.90 L820.90,951.61 L820.62,950.31 L820.35,949.02 L820.07,947.73 L819.79,946.44 L819.51,945.14 L819.22,943.85 L818.93,942.56 L818.62,941.26 L818.29,939.97 L817.96,938.68 L817.61,937.38 L817.23,936.09 L816.84,934.80 L816.43,933.50 L815.99,932.21 L815.52,930.92 L815.00,929.63 L814.43,928.33 L813.81,927.04 L813.15,925.75 L812.44,924.45 L811.71,923.16 L810.94,921.87 L810.15,920.57 L809.34,919.28 L808.51,917.99 L807.68,916.69 L806.84,915.40 L805.92,914.11 L804.89,912.82 L803.79,911.52 L802.64,910.23 L801.46,908.94 L800.30,907.64 L799.18,906.35 L798.13,905.06 L797.17,903.76 L796.35,902.47 L795.69,901.18 L795.11,899.88 L794.52,898.59 L793.97,897.30 L793.47,896.01 L793.06,894.71 L792.77,893.42 L792.61,892.13 L792.64,890.83 L792.84,889.54 L793.18,888.25 L793.61,886.95 L794.11,885.66 L794.61,884.37 L795.10,883.07 L795.63,881.78 L796.23,880.49 L796.89,879.19 L797.58,877.90 L798.32,876.61 L799.08,875.32 L799.87,874.02 L800.66,872.73 L801.46,871.44 L802.25,870.14 L803.03,868.85 L803.78,867.56 L804.56,866.26 L805.37,864.97 L806.21,863.68 L807.07,862.38 L807.93,861.09 L808.78,859.80 L809.62,858.51 L810.43,857.21 L811.20,855.92 L811.92,854.63 L812.58,853.33 L813.16,852.04 L813.68,850.75 L814.17,849.45 L814.65,848.16 L815.10,846.87 L815.53,845.57 L815.95,844.28 L816.34,842.99 L816.71,841.70 L817.05,840.40 L817.38,839.11 L817.68,837.82 L817.95,836.52 L818.21,835.23 L818.44,833.94 L818.66,832.64 L818.86,831.35 L819.05,830.06 L819.22,828.76 L819.40,827.47 L819.56,826.18 L819.73,824.89 L819.89,823.59 L820.06,822.30 L820.24,821.01 L820.43,819.71 L820.63,818.42 L820.83,817.13 L821.05,815.83 L821.27,814.54 L821.49,813.25 L821.71,811.95 L821.92,810.66 L822.12,809.37 L822.31,808.08 L822.48,806.78 L822.64,805.49 L822.77,804.20 L822.89,802.90 L823.00,801.61 L823.11,800.32 L823.22,799.02 L823.33,797.73 L823.43,796.44 L823.52,795.14 L823.61,793.85 L823.69,792.56 L823.77,791.27 L823.83,789.97 L823.89,788.68 L823.94,787.39 L823.97,786.09 L824.00,784.80 Z" fill="url(#g5)" stroke="#3b322b" stroke-width="2.6" stroke-linejoin="round"/>
<line x1="791.4" y1="892.4" x2="859.1" y2="892.4" stroke="#111" stroke-width="4"/>
<path d="M945.40,741.30 L945.40,742.67 L945.41,744.05 L945.41,745.42 L945.43,746.79 L945.44,748.16 L945.46,749.54 L945.48,750.91 L945.50,752.28 L945.52,753.66 L945.55,755.03 L945.58,756.40 L945.61,757.78 L945.64,759.15 L945.68,760.52 L945.72,761.89 L945.75,763.27 L945.80,764.64 L945.85,766.01 L945.92,767.39 L946.01,768.76 L946.13,770.13 L946.25,771.51 L946.39,772.88 L946.55,774.25 L946.71,775.62 L946.87,777.00 L947.04,778.37 L947.21,779.74 L947.37,781.12 L947.53,782.49 L947.70,783.86 L947.87,785.23 L948.05,786.61 L948.23,787.98 L948.42,789.35 L948.61,790.73 L948.81,792.10 L949.02,793.47 L949.23,794.85 L949.45,796.22 L949.67,797.59 L949.89,798.96 L950.12,800.34 L950.36,801.71 L950.61,803.08 L950.87,804.46 L951.13,805.83 L951.40,807.20 L951.68,808.57 L951.96,809.95 L952.25,811.32 L952.54,812.69 L952.84,814.07 L953.15,815.44 L953.46,816.81 L953.77,818.19 L954.10,819.56 L954.43,820.93 L954.77,822.30 L955.11,823.68 L955.47,825.05 L955.83,826.42 L956.19,827.80 L956.57,829.17 L956.94,830.54 L957.33,831.92 L957.71,833.29 L958.10,834.66 L958.51,836.03 L958.92,837.41 L959.34,838.78 L959.77,840.15 L960.21,841.53 L960.65,842.90 L961.10,844.27 L961.55,845.64 L961.99,847.02 L962.44,848.39 L962.88,849.76 L963.32,851.14 L963.76,852.51 L964.22,853.88 L964.70,855.26 L965.19,856.63 L965.67,858.00 L966.14,859.37 L966.60,860.75 L967.02,862.12 L967.40,863.49 L967.73,864.87 L968.00,866.24 L968.27,867.61 L968.54,868.98 L968.80,870.36 L969.04,871.73 L969.25,873.10 L969.41,874.48 L969.53,875.85 L969.59,877.22 L969.59,878.60 L969.52,879.97 L969.41,881.34 L969.24,882.71 L969.04,884.09 L968.81,885.46 L968.55,886.83 L968.27,888.21 L967.99,889.58 L967.68,890.95 L967.27,892.33 L966.79,893.70 L966.24,895.07 L965.62,896.44 L964.96,897.82 L964.27,899.19 L963.55,900.56 L962.83,901.94 L962.11,903.31 L961.38,904.68 L960.60,906.05 L959.76,907.43 L958.88,908.80 L957.97,910.17 L957.05,911.55 L956.13,912.92 L955.23,914.29 L954.36,915.67 L953.53,917.04 L952.75,918.41 L951.94,919.78 L951.10,921.16 L950.26,922.53 L949.45,923.90 L948.71,925.28 L948.05,926.65 L947.51,928.02 L947.12,929.39 L946.88,930.77 L946.67,932.14 L946.49,933.51 L946.33,934.89 L946.19,936.26 L946.07,937.63 L945.97,939.01 L945.89,940.38 L945.82,941.75 L945.76,943.12 L945.71,944.50 L945.67,945.87 L945.62,947.24 L945.58,948.62 L945.54,949.99 L945.50,951.36 L945.47,952.74 L945.45,954.11 L945.43,955.48 L945.41,956.85 L945.40,958.23 L945.40,959.60 L943.60,959.60 L943.60,958.23 L943.59,956.85 L943.57,955.48 L943.55,954.11 L943.53,952.74 L943.50,951.36 L943.46,949.99 L943.42,948.62 L943.38,947.24 L943.33,945.87 L943.29,944.50 L943.24,943.12 L943.18,941.75 L943.11,940.38 L943.03,939.01 L942.93,937.63 L942.81,936.26 L942.67,934.89 L942.51,933.51 L942.33,932.14 L942.12,930.77 L941.88,929.39 L941.49,928.02 L940.95,926.65 L940.29,925.28 L939.55,923.90 L938.74,922.53 L937.90,921.16 L937.06,919.78 L936.25,918.41 L935.47,917.04 L934.64,915.67 L933.77,914.29 L932.87,912.92 L931.95,911.55 L931.03,910.17 L930.12,908.80 L929.24,907.43 L928.40,906.05 L927.62,904.68 L926.89,903.31 L926.17,901.94 L925.45,900.56 L924.73,899.19 L924.04,897.82 L923.38,896.44 L922.76,895.07 L922.21,893.70 L921.73,892.33 L921.32,890.95 L921.01,889.58 L920.73,888.21 L920.45,886.83 L920.19,885.46 L919.96,884.09 L919.76,882.71 L919.59,881.34 L919.48,879.97 L919.41,878.60 L919.41,877.22 L919.47,875.85 L919.59,874.48 L919.75,873.10 L919.96,871.73 L920.20,870.36 L920.46,868.98 L920.73,867.61 L921.00,866.24 L921.27,864.87 L921.60,863.49 L921.98,862.12 L922.40,860.75 L922.86,859.37 L923.33,858.00 L923.81,856.63 L924.30,855.26 L924.78,853.88 L925.24,852.51 L925.68,851.14 L926.12,849.76 L926.56,848.39 L927.01,847.02 L927.45,845.64 L927.90,844.27 L928.35,842.90 L928.79,841.53 L929.23,840.15 L929.66,838.78 L930.08,837.41 L930.49,836.03 L930.90,834.66 L931.29,833.29 L931.67,831.92 L932.06,830.54 L932.43,829.17 L932.81,827.80 L933.17,826.42 L933.53,825.05 L933.89,823.68 L934.23,822.30 L934.57,820.93 L934.90,819.56 L935.23,818.19 L935.54,816.81 L935.85,815.44 L936.16,814.07 L936.46,812.69 L936.75,811.32 L937.04,809.95 L937.32,808.57 L937.60,807.20 L937.87,805.83 L938.13,804.46 L938.39,803.08 L938.64,801.71 L938.88,800.34 L939.11,798.96 L939.33,797.59 L939.55,796.22 L939.77,794.85 L939.98,793.47 L940.19,792.10 L940.39,790.73 L940.58,789.35 L940.77,787.98 L940.95,786.61 L941.13,785.23 L941.30,783.86 L941.47,782.49 L941.63,781.12 L941.79,779.74 L941.96,778.37 L942.13,777.00 L942.29,775.62 L942.45,774.25 L942.61,772.88 L942.75,771.51 L942.87,770.13 L942.99,768.76 L943.08,767.39 L943.15,766.01 L943.20,764.64 L943.25,763.27 L943.28,761.89 L943.32,760.52 L943.36,759.15 L943.39,757.78 L943.42,756.40 L943.45,755.03 L943.48,753.66 L943.50,752.28 L943.52,750.91 L943.54,749.54 L943.56,748.16 L943.57,746.79 L943.59,745.42 L943.59,744.05 L943.60,742.67 L943.60,741.30 Z" fill="url(#g6)" stroke="#3b322b" stroke-width="2.6" stroke-linejoin="round"/>
<line x1="909.2" y1="875.7" x2="979.7" y2="875.7" stroke="#111" stroke-width="4"/>
<path d="M1098.40,739.60 L1098.40,740.96 L1098.40,742.32 L1098.40,743.68 L1098.40,745.05 L1098.40,746.41 L1098.40,747.77 L1098.40,749.13 L1098.40,750.49 L1098.40,751.85 L1098.40,753.22 L1098.40,754.58 L1098.40,755.94 L1098.40,757.30 L1098.40,758.66 L1098.40,760.02 L1098.40,761.39 L1098.40,762.75 L1098.40,764.11 L1098.41,765.47 L1098.45,766.83 L1098.53,768.19 L1098.65,769.56 L1098.80,770.92 L1098.97,772.28 L1099.16,773.64 L1099.37,775.00 L1099.58,776.36 L1099.80,777.73 L1100.02,779.09 L1100.24,780.45 L1100.44,781.81 L1100.64,783.17 L1100.84,784.53 L1101.05,785.90 L1101.26,787.26 L1101.48,788.62 L1101.71,789.98 L1101.94,791.34 L1102.18,792.70 L1102.43,794.07 L1102.68,795.43 L1102.94,796.79 L1103.21,798.15 L1103.48,799.51 L1103.76,800.87 L1104.05,802.24 L1104.34,803.60 L1104.63,804.96 L1104.94,806.32 L1105.26,807.68 L1105.59,809.04 L1105.94,810.41 L1106.30,811.77 L1106.69,813.13 L1107.09,814.49 L1107.52,815.85 L1107.97,817.21 L1108.47,818.57 L1109.03,819.94 L1109.64,821.30 L1110.29,822.66 L1110.97,824.02 L1111.69,825.38 L1112.43,826.74 L1113.20,828.11 L1113.97,829.47 L1114.76,830.83 L1115.59,832.19 L1116.50,833.55 L1117.47,834.91 L1118.48,836.28 L1119.51,837.64 L1120.54,839.00 L1121.54,840.36 L1122.50,841.72 L1123.40,843.08 L1124.21,844.45 L1124.96,845.81 L1125.75,847.17 L1126.55,848.53 L1127.35,849.89 L1128.12,851.25 L1128.82,852.62 L1129.43,853.98 L1129.93,855.34 L1130.29,856.70 L1130.48,858.06 L1130.47,859.42 L1130.29,860.79 L1129.97,862.15 L1129.52,863.51 L1128.98,864.87 L1128.37,866.23 L1127.72,867.59 L1127.07,868.96 L1126.31,870.32 L1125.33,871.68 L1124.16,873.04 L1122.85,874.40 L1121.47,875.76 L1120.05,877.13 L1118.65,878.49 L1117.32,879.85 L1116.12,881.21 L1115.08,882.57 L1114.22,883.93 L1113.42,885.29 L1112.66,886.66 L1111.94,888.02 L1111.25,889.38 L1110.60,890.74 L1109.97,892.10 L1109.37,893.46 L1108.79,894.83 L1108.23,896.19 L1107.68,897.55 L1107.14,898.91 L1106.61,900.27 L1106.09,901.63 L1105.59,903.00 L1105.10,904.36 L1104.64,905.72 L1104.19,907.08 L1103.76,908.44 L1103.35,909.80 L1102.97,911.17 L1102.62,912.53 L1102.28,913.89 L1101.93,915.25 L1101.59,916.61 L1101.25,917.97 L1100.92,919.34 L1100.61,920.70 L1100.32,922.06 L1100.05,923.42 L1099.80,924.78 L1099.59,926.14 L1099.42,927.51 L1099.28,928.87 L1099.19,930.23 L1099.11,931.59 L1099.04,932.95 L1098.97,934.31 L1098.91,935.68 L1098.85,937.04 L1098.79,938.40 L1098.73,939.76 L1098.68,941.12 L1098.64,942.48 L1098.59,943.85 L1098.55,945.21 L1098.52,946.57 L1098.49,947.93 L1098.46,949.29 L1098.44,950.65 L1098.42,952.02 L1098.41,953.38 L1098.40,954.74 L1098.40,956.10 L1096.60,956.10 L1096.60,954.74 L1096.59,953.38 L1096.58,952.02 L1096.56,950.65 L1096.54,949.29 L1096.51,947.93 L1096.48,946.57 L1096.45,945.21 L1096.41,943.85 L1096.36,942.48 L1096.32,941.12 L1096.27,939.76 L1096.21,938.40 L1096.15,937.04 L1096.09,935.68 L1096.03,934.31 L1095.96,932.95 L1095.89,931.59 L1095.81,930.23 L1095.72,928.87 L1095.58,927.51 L1095.41,926.14 L1095.20,924.78 L1094.95,923.42 L1094.68,922.06 L1094.39,920.70 L1094.08,919.34 L1093.75,917.97 L1093.41,916.61 L1093.07,915.25 L1092.72,913.89 L1092.38,912.53 L1092.03,911.17 L1091.65,909.80 L1091.24,908.44 L1090.81,907.08 L1090.36,905.72 L1089.90,904.36 L1089.41,903.00 L1088.91,901.63 L1088.39,900.27 L1087.86,898.91 L1087.32,897.55 L1086.77,896.19 L1086.21,894.83 L1085.63,893.46 L1085.03,892.10 L1084.40,890.74 L1083.75,889.38 L1083.06,888.02 L1082.34,886.66 L1081.58,885.29 L1080.78,883.93 L1079.92,882.57 L1078.88,881.21 L1077.68,879.85 L1076.35,878.49 L1074.95,877.13 L1073.53,875.76 L1072.15,874.40 L1070.84,873.04 L1069.67,871.68 L1068.69,870.32 L1067.93,868.96 L1067.28,867.59 L1066.63,866.23 L1066.02,864.87 L1065.48,863.51 L1065.03,862.15 L1064.71,860.79 L1064.53,859.42 L1064.52,858.06 L1064.71,856.70 L1065.07,855.34 L1065.57,853.98 L1066.18,852.62 L1066.88,851.25 L1067.65,849.89 L1068.45,848.53 L1069.25,847.17 L1070.04,845.81 L1070.79,844.45 L1071.60,843.08 L1072.50,841.72 L1073.46,840.36 L1074.46,839.00 L1075.49,837.64 L1076.52,836.28 L1077.53,834.91 L1078.50,833.55 L1079.41,832.19 L1080.24,830.83 L1081.03,829.47 L1081.80,828.11 L1082.57,826.74 L1083.31,825.38 L1084.03,824.02 L1084.71,822.66 L1085.36,821.30 L1085.97,819.94 L1086.53,818.57 L1087.03,817.21 L1087.48,815.85 L1087.91,814.49 L1088.31,813.13 L1088.70,811.77 L1089.06,810.41 L1089.41,809.04 L1089.74,807.68 L1090.06,806.32 L1090.37,804.96 L1090.66,803.60 L1090.95,802.24 L1091.24,800.87 L1091.52,799.51 L1091.79,798.15 L1092.06,796.79 L1092.32,795.43 L1092.57,794.07 L1092.82,792.70 L1093.06,791.34 L1093.29,789.98 L1093.52,788.62 L1093.74,787.26 L1093.95,785.90 L1094.16,784.53 L1094.36,783.17 L1094.56,781.81 L1094.76,780.45 L1094.98,779.09 L1095.20,777.73 L1095.42,776.36 L1095.63,775.00 L1095.84,773.64 L1096.03,772.28 L1096.20,770.92 L1096.35,769.56 L1096.47,768.19 L1096.55,766.83 L1096.59,765.47 L1096.60,764.11 L1096.60,762.75 L1096.60,761.39 L1096.60,760.02 L1096.60,758.66 L1096.60,757.30 L1096.60,755.94 L1096.60,754.58 L1096.60,753.22 L1096.60,751.85 L1096.60,750.49 L1096.60,749.13 L1096.60,747.77 L1096.60,746.41 L1096.60,745.05 L1096.60,743.68 L1096.60,742.32 L1096.60,740.96 L1096.60,739.60 Z" fill="url(#g7)" stroke="#3b322b" stroke-width="2.6" stroke-linejoin="round"/>
<line x1="1064.0" y1="859.6" x2="1131.8" y2="859.6" stroke="#111" stroke-width="4"/>
<path d="M1218.50,745.80 L1218.52,746.97 L1218.53,748.13 L1218.55,749.30 L1218.57,750.47 L1218.58,751.63 L1218.59,752.80 L1218.60,753.97 L1218.61,755.13 L1218.62,756.30 L1218.63,757.47 L1218.64,758.63 L1218.65,759.80 L1218.66,760.97 L1218.66,762.13 L1218.67,763.30 L1218.67,764.47 L1218.68,765.63 L1218.68,766.80 L1218.69,767.97 L1218.69,769.13 L1218.69,770.30 L1218.69,771.47 L1218.70,772.63 L1218.70,773.80 L1218.70,774.97 L1218.70,776.13 L1218.70,777.30 L1218.70,778.47 L1218.70,779.63 L1218.70,780.80 L1218.70,781.97 L1218.70,783.13 L1218.70,784.30 L1218.69,785.47 L1218.68,786.63 L1218.67,787.80 L1218.65,788.97 L1218.63,790.13 L1218.62,791.30 L1218.60,792.47 L1218.58,793.63 L1218.56,794.80 L1218.54,795.97 L1218.52,797.13 L1218.51,798.30 L1218.50,799.47 L1218.50,800.63 L1218.55,801.80 L1218.75,802.97 L1219.07,804.13 L1219.48,805.30 L1219.93,806.47 L1220.41,807.63 L1220.91,808.80 L1221.53,809.97 L1222.26,811.13 L1223.08,812.30 L1223.94,813.47 L1224.82,814.63 L1225.69,815.80 L1226.52,816.97 L1227.34,818.13 L1228.19,819.30 L1229.06,820.47 L1229.93,821.63 L1230.79,822.80 L1231.64,823.97 L1232.46,825.13 L1233.25,826.30 L1233.99,827.47 L1234.73,828.63 L1235.46,829.80 L1236.18,830.97 L1236.89,832.13 L1237.57,833.30 L1238.22,834.47 L1238.84,835.63 L1239.41,836.80 L1239.94,837.97 L1240.41,839.13 L1240.87,840.30 L1241.32,841.47 L1241.74,842.63 L1242.15,843.80 L1242.53,844.97 L1242.88,846.13 L1243.20,847.30 L1243.48,848.47 L1243.72,849.63 L1243.92,850.80 L1244.12,851.97 L1244.31,853.13 L1244.49,854.30 L1244.67,855.47 L1244.83,856.63 L1244.97,857.80 L1245.09,858.97 L1245.19,860.13 L1245.25,861.30 L1245.29,862.47 L1245.30,863.63 L1245.28,864.80 L1245.23,865.97 L1245.16,867.13 L1245.07,868.30 L1244.96,869.47 L1244.83,870.63 L1244.69,871.80 L1244.53,872.97 L1244.36,874.13 L1244.19,875.30 L1244.00,876.47 L1243.81,877.63 L1243.59,878.80 L1243.31,879.97 L1242.96,881.13 L1242.57,882.30 L1242.14,883.47 L1241.67,884.63 L1241.16,885.80 L1240.63,886.97 L1240.07,888.13 L1239.50,889.30 L1238.87,890.47 L1238.16,891.63 L1237.36,892.80 L1236.51,893.97 L1235.62,895.13 L1234.69,896.30 L1233.75,897.47 L1232.81,898.63 L1231.88,899.80 L1230.87,900.97 L1229.79,902.13 L1228.67,903.30 L1227.52,904.47 L1226.39,905.63 L1225.29,906.80 L1224.26,907.97 L1223.33,909.13 L1222.52,910.30 L1221.84,911.47 L1221.20,912.63 L1220.57,913.80 L1219.98,914.97 L1219.46,916.13 L1219.03,917.30 L1218.70,918.47 L1218.51,919.63 L1218.40,920.80 L1218.30,921.97 L1218.21,923.13 L1218.13,924.30 L1218.06,925.47 L1218.01,926.63 L1217.96,927.80 L1217.93,928.97 L1217.91,930.13 L1217.90,931.30 L1216.10,931.30 L1216.09,930.13 L1216.07,928.97 L1216.04,927.80 L1215.99,926.63 L1215.94,925.47 L1215.87,924.30 L1215.79,923.13 L1215.70,921.97 L1215.60,920.80 L1215.49,919.63 L1215.30,918.47 L1214.97,917.30 L1214.54,916.13 L1214.02,914.97 L1213.43,913.80 L1212.80,912.63 L1212.16,911.47 L1211.48,910.30 L1210.67,909.13 L1209.74,907.97 L1208.71,906.80 L1207.61,905.63 L1206.48,904.47 L1205.33,903.30 L1204.21,902.13 L1203.13,900.97 L1202.12,899.80 L1201.19,898.63 L1200.25,897.47 L1199.31,896.30 L1198.38,895.13 L1197.49,893.97 L1196.64,892.80 L1195.84,891.63 L1195.13,890.47 L1194.50,889.30 L1193.93,888.13 L1193.37,886.97 L1192.84,885.80 L1192.33,884.63 L1191.86,883.47 L1191.43,882.30 L1191.04,881.13 L1190.69,879.97 L1190.41,878.80 L1190.19,877.63 L1190.00,876.47 L1189.81,875.30 L1189.64,874.13 L1189.47,872.97 L1189.31,871.80 L1189.17,870.63 L1189.04,869.47 L1188.93,868.30 L1188.84,867.13 L1188.77,865.97 L1188.72,864.80 L1188.70,863.63 L1188.71,862.47 L1188.75,861.30 L1188.81,860.13 L1188.91,858.97 L1189.03,857.80 L1189.17,856.63 L1189.33,855.47 L1189.51,854.30 L1189.69,853.13 L1189.88,851.97 L1190.08,850.80 L1190.28,849.63 L1190.52,848.47 L1190.80,847.30 L1191.12,846.13 L1191.47,844.97 L1191.85,843.80 L1192.26,842.63 L1192.68,841.47 L1193.13,840.30 L1193.59,839.13 L1194.06,837.97 L1194.59,836.80 L1195.16,835.63 L1195.78,834.47 L1196.43,833.30 L1197.11,832.13 L1197.82,830.97 L1198.54,829.80 L1199.27,828.63 L1200.01,827.47 L1200.75,826.30 L1201.54,825.13 L1202.36,823.97 L1203.21,822.80 L1204.07,821.63 L1204.94,820.47 L1205.81,819.30 L1206.66,818.13 L1207.48,816.97 L1208.31,815.80 L1209.18,814.63 L1210.06,813.47 L1210.92,812.30 L1211.74,811.13 L1212.47,809.97 L1213.09,808.80 L1213.59,807.63 L1214.07,806.47 L1214.52,805.30 L1214.93,804.13 L1215.25,802.97 L1215.45,801.80 L1215.50,800.63 L1215.50,799.47 L1215.49,798.30 L1215.48,797.13 L1215.46,795.97 L1215.44,794.80 L1215.42,793.63 L1215.40,792.47 L1215.38,791.30 L1215.37,790.13 L1215.35,788.97 L1215.33,787.80 L1215.32,786.63 L1215.31,785.47 L1215.30,784.30 L1215.30,783.13 L1215.30,781.97 L1215.30,780.80 L1215.30,779.63 L1215.30,778.47 L1215.30,777.30 L1215.30,776.13 L1215.30,774.97 L1215.30,773.80 L1215.30,772.63 L1215.31,771.47 L1215.31,770.30 L1215.31,769.13 L1215.31,767.97 L1215.32,766.80 L1215.32,765.63 L1215.33,764.47 L1215.33,763.30 L1215.34,762.13 L1215.34,760.97 L1215.35,759.80 L1215.36,758.63 L1215.37,757.47 L1215.38,756.30 L1215.39,755.13 L1215.40,753.97 L1215.41,752.80 L1215.42,751.63 L1215.43,750.47 L1215.45,749.30 L1215.47,748.13 L1215.48,746.97 L1215.50,745.80 Z" fill="url(#g8)" stroke="#3b322b" stroke-width="2.6" stroke-linejoin="round"/>
<line x1="1182.1" y1="861.7" x2="1251.6" y2="861.7" stroke="#111" stroke-width="4"/>
<path d="M1337.20,775.20 L1337.22,776.57 L1337.26,777.94 L1337.33,779.31 L1337.43,780.68 L1337.55,782.06 L1337.68,783.43 L1337.84,784.80 L1338.00,786.17 L1338.18,787.54 L1338.37,788.91 L1338.57,790.28 L1338.80,791.65 L1339.10,793.02 L1339.48,794.39 L1339.91,795.77 L1340.40,797.14 L1340.93,798.51 L1341.50,799.88 L1342.09,801.25 L1342.70,802.62 L1343.31,803.99 L1343.92,805.36 L1344.53,806.73 L1345.12,808.11 L1345.74,809.48 L1346.39,810.85 L1347.07,812.22 L1347.78,813.59 L1348.50,814.96 L1349.23,816.33 L1349.96,817.70 L1350.69,819.07 L1351.40,820.45 L1352.09,821.82 L1352.75,823.19 L1353.38,824.56 L1354.00,825.93 L1354.64,827.30 L1355.29,828.67 L1355.94,830.04 L1356.58,831.41 L1357.21,832.78 L1357.81,834.16 L1358.37,835.53 L1358.89,836.90 L1359.35,838.27 L1359.75,839.64 L1360.08,841.01 L1360.35,842.38 L1360.60,843.75 L1360.84,845.12 L1361.07,846.50 L1361.28,847.87 L1361.47,849.24 L1361.63,850.61 L1361.76,851.98 L1361.85,853.35 L1361.90,854.72 L1361.89,856.09 L1361.81,857.46 L1361.67,858.84 L1361.48,860.21 L1361.26,861.58 L1361.01,862.95 L1360.75,864.32 L1360.48,865.69 L1360.22,867.06 L1359.97,868.43 L1359.69,869.80 L1359.38,871.17 L1359.06,872.55 L1358.72,873.92 L1358.36,875.29 L1357.99,876.66 L1357.62,878.03 L1357.24,879.40 L1356.85,880.77 L1356.47,882.14 L1356.09,883.51 L1355.71,884.89 L1355.33,886.26 L1354.93,887.63 L1354.53,889.00 L1354.12,890.37 L1353.71,891.74 L1353.30,893.11 L1352.87,894.48 L1352.45,895.85 L1352.03,897.23 L1351.60,898.60 L1351.18,899.97 L1350.76,901.34 L1350.33,902.71 L1349.89,904.08 L1349.44,905.45 L1348.98,906.82 L1348.53,908.19 L1348.07,909.56 L1347.62,910.94 L1347.18,912.31 L1346.74,913.68 L1346.32,915.05 L1345.92,916.42 L1345.54,917.79 L1345.17,919.16 L1344.82,920.53 L1344.47,921.90 L1344.13,923.28 L1343.80,924.65 L1343.48,926.02 L1343.17,927.39 L1342.86,928.76 L1342.56,930.13 L1342.27,931.50 L1341.99,932.87 L1341.71,934.24 L1341.44,935.62 L1341.17,936.99 L1340.90,938.36 L1340.63,939.73 L1340.37,941.10 L1340.11,942.47 L1339.86,943.84 L1339.62,945.21 L1339.39,946.58 L1339.18,947.95 L1338.98,949.33 L1338.79,950.70 L1338.63,952.07 L1338.47,953.44 L1338.32,954.81 L1338.16,956.18 L1338.01,957.55 L1337.86,958.92 L1337.72,960.29 L1337.59,961.67 L1337.47,963.04 L1337.37,964.41 L1337.29,965.78 L1337.24,967.15 L1337.21,968.52 L1337.20,969.89 L1337.20,971.26 L1337.20,972.63 L1337.20,974.01 L1337.20,975.38 L1337.20,976.75 L1337.20,978.12 L1337.20,979.49 L1337.20,980.86 L1337.20,982.23 L1337.20,983.60 L1337.20,984.97 L1337.20,986.34 L1337.20,987.72 L1337.20,989.09 L1337.20,990.46 L1337.20,991.83 L1337.20,993.20 L1335.40,993.20 L1335.40,991.83 L1335.40,990.46 L1335.40,989.09 L1335.40,987.72 L1335.40,986.34 L1335.40,984.97 L1335.40,983.60 L1335.40,982.23 L1335.40,980.86 L1335.40,979.49 L1335.40,978.12 L1335.40,976.75 L1335.40,975.38 L1335.40,974.01 L1335.40,972.63 L1335.40,971.26 L1335.40,969.89 L1335.39,968.52 L1335.36,967.15 L1335.31,965.78 L1335.23,964.41 L1335.13,963.04 L1335.01,961.67 L1334.88,960.29 L1334.74,958.92 L1334.59,957.55 L1334.44,956.18 L1334.28,954.81 L1334.13,953.44 L1333.97,952.07 L1333.81,950.70 L1333.62,949.33 L1333.42,947.95 L1333.21,946.58 L1332.98,945.21 L1332.74,943.84 L1332.49,942.47 L1332.23,941.10 L1331.97,939.73 L1331.70,938.36 L1331.43,936.99 L1331.16,935.62 L1330.89,934.24 L1330.61,932.87 L1330.33,931.50 L1330.04,930.13 L1329.74,928.76 L1329.43,927.39 L1329.12,926.02 L1328.80,924.65 L1328.47,923.28 L1328.13,921.90 L1327.78,920.53 L1327.43,919.16 L1327.06,917.79 L1326.68,916.42 L1326.28,915.05 L1325.86,913.68 L1325.42,912.31 L1324.98,910.94 L1324.53,909.56 L1324.07,908.19 L1323.62,906.82 L1323.16,905.45 L1322.71,904.08 L1322.27,902.71 L1321.84,901.34 L1321.42,899.97 L1321.00,898.60 L1320.57,897.23 L1320.15,895.85 L1319.73,894.48 L1319.30,893.11 L1318.89,891.74 L1318.48,890.37 L1318.07,889.00 L1317.67,887.63 L1317.27,886.26 L1316.89,884.89 L1316.51,883.51 L1316.13,882.14 L1315.75,880.77 L1315.36,879.40 L1314.98,878.03 L1314.61,876.66 L1314.24,875.29 L1313.88,873.92 L1313.54,872.55 L1313.22,871.17 L1312.91,869.80 L1312.63,868.43 L1312.38,867.06 L1312.12,865.69 L1311.85,864.32 L1311.59,862.95 L1311.34,861.58 L1311.12,860.21 L1310.93,858.84 L1310.79,857.46 L1310.71,856.09 L1310.70,854.72 L1310.75,853.35 L1310.84,851.98 L1310.97,850.61 L1311.13,849.24 L1311.32,847.87 L1311.53,846.50 L1311.76,845.12 L1312.00,843.75 L1312.25,842.38 L1312.52,841.01 L1312.85,839.64 L1313.25,838.27 L1313.71,836.90 L1314.23,835.53 L1314.79,834.16 L1315.39,832.78 L1316.02,831.41 L1316.66,830.04 L1317.31,828.67 L1317.96,827.30 L1318.60,825.93 L1319.22,824.56 L1319.85,823.19 L1320.51,821.82 L1321.20,820.45 L1321.91,819.07 L1322.64,817.70 L1323.37,816.33 L1324.10,814.96 L1324.82,813.59 L1325.53,812.22 L1326.21,810.85 L1326.86,809.48 L1327.48,808.11 L1328.07,806.73 L1328.68,805.36 L1329.29,803.99 L1329.90,802.62 L1330.51,801.25 L1331.10,799.88 L1331.67,798.51 L1332.20,797.14 L1332.69,795.77 L1333.12,794.39 L1333.50,793.02 L1333.80,791.65 L1334.03,790.28 L1334.23,788.91 L1334.42,787.54 L1334.60,786.17 L1334.76,784.80 L1334.92,783.43 L1335.05,782.06 L1335.17,780.68 L1335.27,779.31 L1335.34,777.94 L1335.38,776.57 L1335.40,775.20 Z" fill="url(#g9)" stroke="#3b322b" stroke-width="2.6" stroke-linejoin="round"/>
<line x1="1302.0" y1="859.2" x2="1370.9" y2="859.2" stroke="#111" stroke-width="4"/>
<path d="M314.70,1064.10 L314.70,1065.29 L314.71,1066.47 L314.72,1067.66 L314.73,1068.85 L314.74,1070.03 L314.76,1071.22 L314.78,1072.41 L314.81,1073.59 L314.83,1074.78 L314.86,1075.97 L314.90,1077.15 L314.93,1078.34 L314.97,1079.53 L315.01,1080.72 L315.06,1081.90 L315.10,1083.09 L315.15,1084.28 L315.20,1085.46 L315.28,1086.65 L315.39,1087.84 L315.54,1089.02 L315.72,1090.21 L315.93,1091.40 L316.17,1092.58 L316.43,1093.77 L316.72,1094.96 L317.02,1096.14 L317.34,1097.33 L317.67,1098.52 L318.01,1099.70 L318.36,1100.89 L318.75,1102.08 L319.20,1103.26 L319.71,1104.45 L320.27,1105.64 L320.87,1106.82 L321.51,1108.01 L322.19,1109.20 L322.90,1110.38 L323.63,1111.57 L324.37,1112.76 L325.18,1113.95 L326.10,1115.13 L327.10,1116.32 L328.15,1117.51 L329.24,1118.69 L330.33,1119.88 L331.42,1121.07 L332.46,1122.25 L333.45,1123.44 L334.42,1124.63 L335.41,1125.81 L336.42,1127.00 L337.42,1128.19 L338.41,1129.37 L339.35,1130.56 L340.24,1131.75 L341.06,1132.93 L341.79,1134.12 L342.42,1135.31 L342.95,1136.49 L343.48,1137.68 L344.01,1138.87 L344.51,1140.05 L344.98,1141.24 L345.40,1142.43 L345.77,1143.62 L346.06,1144.80 L346.27,1145.99 L346.38,1147.18 L346.39,1148.36 L346.31,1149.55 L346.15,1150.74 L345.93,1151.92 L345.66,1153.11 L345.35,1154.30 L345.01,1155.48 L344.65,1156.67 L344.29,1157.86 L343.93,1159.04 L343.50,1160.23 L343.01,1161.42 L342.46,1162.60 L341.86,1163.79 L341.22,1164.98 L340.57,1166.16 L339.89,1167.35 L339.21,1168.54 L338.54,1169.72 L337.88,1170.91 L337.22,1172.10 L336.52,1173.28 L335.81,1174.47 L335.08,1175.66 L334.35,1176.85 L333.60,1178.03 L332.86,1179.22 L332.11,1180.41 L331.38,1181.59 L330.66,1182.78 L329.95,1183.97 L329.26,1185.15 L328.55,1186.34 L327.84,1187.53 L327.11,1188.71 L326.39,1189.90 L325.68,1191.09 L324.97,1192.27 L324.29,1193.46 L323.63,1194.65 L323.01,1195.83 L322.42,1197.02 L321.87,1198.21 L321.38,1199.39 L320.93,1200.58 L320.49,1201.77 L320.06,1202.95 L319.65,1204.14 L319.26,1205.33 L318.88,1206.52 L318.53,1207.70 L318.19,1208.89 L317.87,1210.08 L317.57,1211.26 L317.29,1212.45 L317.03,1213.64 L316.80,1214.82 L316.57,1216.01 L316.34,1217.20 L316.11,1218.38 L315.89,1219.57 L315.67,1220.76 L315.47,1221.94 L315.28,1223.13 L315.11,1224.32 L314.97,1225.50 L314.85,1226.69 L314.76,1227.88 L314.71,1229.06 L314.70,1230.25 L314.70,1231.44 L314.70,1232.62 L314.70,1233.81 L314.70,1235.00 L314.70,1236.18 L314.70,1237.37 L314.70,1238.56 L314.70,1239.75 L314.70,1240.93 L314.70,1242.12 L314.70,1243.31 L314.70,1244.49 L314.70,1245.68 L314.70,1246.87 L314.70,1248.05 L314.70,1249.24 L314.70,1250.43 L314.70,1251.61 L314.70,1252.80 L312.90,1252.80 L312.90,1251.61 L312.90,1250.43 L312.90,1249.24 L312.90,1248.05 L312.90,1246.87 L312.90,1245.68 L312.90,1244.49 L312.90,1243.31 L312.90,1242.12 L312.90,1240.93 L312.90,1239.75 L312.90,1238.56 L312.90,1237.37 L312.90,1236.18 L312.90,1235.00 L312.90,1233.81 L312.90,1232.62 L312.90,1231.44 L312.90,1230.25 L312.89,1229.06 L312.84,1227.88 L312.75,1226.69 L312.63,1225.50 L312.49,1224.32 L312.32,1223.13 L312.13,1221.94 L311.93,1220.76 L311.71,1219.57 L311.49,1218.38 L311.26,1217.20 L311.03,1216.01 L310.80,1214.82 L310.57,1213.64 L310.31,1212.45 L310.03,1211.26 L309.73,1210.08 L309.41,1208.89 L309.07,1207.70 L308.72,1206.52 L308.34,1205.33 L307.95,1204.14 L307.54,1202.95 L307.11,1201.77 L306.67,1200.58 L306.22,1199.39 L305.73,1198.21 L305.18,1197.02 L304.59,1195.83 L303.97,1194.65 L303.31,1193.46 L302.63,1192.27 L301.92,1191.09 L301.21,1189.90 L300.49,1188.71 L299.76,1187.53 L299.05,1186.34 L298.34,1185.15 L297.65,1183.97 L296.94,1182.78 L296.22,1181.59 L295.49,1180.41 L294.74,1179.22 L294.00,1178.03 L293.25,1176.85 L292.52,1175.66 L291.79,1174.47 L291.08,1173.28 L290.38,1172.10 L289.72,1170.91 L289.06,1169.72 L288.39,1168.54 L287.71,1167.35 L287.03,1166.16 L286.38,1164.98 L285.74,1163.79 L285.14,1162.60 L284.59,1161.42 L284.10,1160.23 L283.67,1159.04 L283.31,1157.86 L282.95,1156.67 L282.59,1155.48 L282.25,1154.30 L281.94,1153.11 L281.67,1151.92 L281.45,1150.74 L281.29,1149.55 L281.21,1148.36 L281.22,1147.18 L281.33,1145.99 L281.54,1144.80 L281.83,1143.62 L282.20,1142.43 L282.62,1141.24 L283.09,1140.05 L283.59,1138.87 L284.12,1137.68 L284.65,1136.49 L285.18,1135.31 L285.81,1134.12 L286.54,1132.93 L287.36,1131.75 L288.25,1130.56 L289.19,1129.37 L290.18,1128.19 L291.18,1127.00 L292.19,1125.81 L293.18,1124.63 L294.15,1123.44 L295.14,1122.25 L296.18,1121.07 L297.27,1119.88 L298.36,1118.69 L299.45,1117.51 L300.50,1116.32 L301.50,1115.13 L302.42,1113.95 L303.23,1112.76 L303.97,1111.57 L304.70,1110.38 L305.41,1109.20 L306.09,1108.01 L306.73,1106.82 L307.33,1105.64 L307.89,1104.45 L308.40,1103.26 L308.85,1102.08 L309.24,1100.89 L309.59,1099.70 L309.93,1098.52 L310.26,1097.33 L310.58,1096.14 L310.88,1094.96 L311.17,1093.77 L311.43,1092.58 L311.67,1091.40 L311.88,1090.21 L312.06,1089.02 L312.21,1087.84 L312.32,1086.65 L312.40,1085.46 L312.45,1084.28 L312.50,1083.09 L312.54,1081.90 L312.59,1080.72 L312.63,1079.53 L312.67,1078.34 L312.70,1077.15 L312.74,1075.97 L312.77,1074.78 L312.79,1073.59 L312.82,1072.41 L312.84,1071.22 L312.86,1070.03 L312.87,1068.85 L312.88,1067.66 L312.89,1066.47 L312.90,1065.29 L312.90,1064.10 Z" fill="url(#g10)" stroke="#26313b" stroke-width="2.6" stroke-linejoin="round"/>
<line x1="280.8" y1="1156.2" x2="348.5" y2="1156.2" stroke="#111" stroke-width="4"/>
<path d="M434.30,1038.60 L434.30,1040.16 L434.30,1041.73 L434.30,1043.29 L434.30,1044.86 L434.30,1046.42 L434.30,1047.98 L434.30,1049.55 L434.30,1051.11 L434.30,1052.68 L434.30,1054.24 L434.30,1055.81 L434.30,1057.37 L434.30,1058.93 L434.30,1060.50 L434.30,1062.06 L434.30,1063.63 L434.30,1065.19 L434.30,1066.75 L434.30,1068.32 L434.30,1069.88 L434.30,1071.45 L434.30,1073.01 L434.30,1074.58 L434.30,1076.14 L434.30,1077.70 L434.30,1079.27 L434.30,1080.83 L434.30,1082.40 L434.30,1083.96 L434.30,1085.52 L434.30,1087.09 L434.34,1088.65 L434.54,1090.22 L434.85,1091.78 L435.25,1093.35 L435.69,1094.91 L436.20,1096.47 L436.91,1098.04 L437.79,1099.60 L438.78,1101.17 L439.84,1102.73 L440.93,1104.29 L441.99,1105.86 L443.00,1107.42 L444.05,1108.99 L445.15,1110.55 L446.29,1112.12 L447.44,1113.68 L448.58,1115.24 L449.70,1116.81 L450.77,1118.37 L451.79,1119.94 L452.72,1121.50 L453.56,1123.06 L454.39,1124.63 L455.21,1126.19 L456.01,1127.76 L456.77,1129.32 L457.49,1130.88 L458.15,1132.45 L458.75,1134.01 L459.27,1135.58 L459.71,1137.14 L460.09,1138.71 L460.46,1140.27 L460.81,1141.83 L461.15,1143.40 L461.46,1144.96 L461.74,1146.53 L461.97,1148.09 L462.14,1149.65 L462.26,1151.22 L462.30,1152.78 L462.28,1154.35 L462.23,1155.91 L462.13,1157.48 L462.01,1159.04 L461.86,1160.60 L461.68,1162.17 L461.48,1163.73 L461.25,1165.30 L461.02,1166.86 L460.76,1168.42 L460.39,1169.99 L459.86,1171.55 L459.19,1173.12 L458.41,1174.68 L457.55,1176.25 L456.63,1177.81 L455.67,1179.37 L454.70,1180.94 L453.75,1182.50 L452.83,1184.07 L451.87,1185.63 L450.85,1187.19 L449.78,1188.76 L448.68,1190.32 L447.56,1191.89 L446.44,1193.45 L445.32,1195.02 L444.22,1196.58 L443.16,1198.14 L442.12,1199.71 L440.97,1201.27 L439.75,1202.84 L438.54,1204.40 L437.43,1205.96 L436.49,1207.53 L435.82,1209.09 L435.48,1210.66 L435.31,1212.22 L435.16,1213.78 L435.01,1215.35 L434.88,1216.91 L434.77,1218.48 L434.66,1220.04 L434.57,1221.61 L434.49,1223.17 L434.43,1224.73 L434.38,1226.30 L434.34,1227.86 L434.31,1229.43 L434.30,1230.99 L434.30,1232.55 L434.32,1234.12 L434.35,1235.68 L434.38,1237.25 L434.43,1238.81 L434.47,1240.38 L434.52,1241.94 L434.57,1243.50 L434.61,1245.07 L434.65,1246.63 L434.68,1248.20 L434.70,1249.76 L434.70,1251.32 L434.70,1252.89 L434.70,1254.45 L434.70,1256.02 L434.69,1257.58 L434.69,1259.15 L434.68,1260.71 L434.67,1262.27 L434.66,1263.84 L434.65,1265.40 L434.64,1266.97 L434.62,1268.53 L434.60,1270.09 L434.58,1271.66 L434.56,1273.22 L434.53,1274.79 L434.50,1276.35 L434.47,1277.92 L434.43,1279.48 L434.40,1281.04 L434.35,1282.61 L434.31,1284.17 L434.25,1285.74 L434.20,1287.30 L432.40,1287.30 L432.35,1285.74 L432.29,1284.17 L432.25,1282.61 L432.20,1281.04 L432.17,1279.48 L432.13,1277.92 L432.10,1276.35 L432.07,1274.79 L432.04,1273.22 L432.02,1271.66 L432.00,1270.09 L431.98,1268.53 L431.96,1266.97 L431.95,1265.40 L431.94,1263.84 L431.93,1262.27 L431.92,1260.71 L431.91,1259.15 L431.91,1257.58 L431.90,1256.02 L431.90,1254.45 L431.90,1252.89 L431.90,1251.32 L431.90,1249.76 L431.92,1248.20 L431.95,1246.63 L431.99,1245.07 L432.03,1243.50 L432.08,1241.94 L432.13,1240.38 L432.17,1238.81 L432.22,1237.25 L432.25,1235.68 L432.28,1234.12 L432.30,1232.55 L432.30,1230.99 L432.29,1229.43 L432.26,1227.86 L432.22,1226.30 L432.17,1224.73 L432.11,1223.17 L432.03,1221.61 L431.94,1220.04 L431.83,1218.48 L431.72,1216.91 L431.59,1215.35 L431.44,1213.78 L431.29,1212.22 L431.12,1210.66 L430.78,1209.09 L430.11,1207.53 L429.17,1205.96 L428.06,1204.40 L426.85,1202.84 L425.63,1201.27 L424.48,1199.71 L423.44,1198.14 L422.38,1196.58 L421.28,1195.02 L420.16,1193.45 L419.04,1191.89 L417.92,1190.32 L416.82,1188.76 L415.75,1187.19 L414.73,1185.63 L413.77,1184.07 L412.85,1182.50 L411.90,1180.94 L410.93,1179.37 L409.97,1177.81 L409.05,1176.25 L408.19,1174.68 L407.41,1173.12 L406.74,1171.55 L406.21,1169.99 L405.84,1168.42 L405.58,1166.86 L405.35,1165.30 L405.12,1163.73 L404.92,1162.17 L404.74,1160.60 L404.59,1159.04 L404.47,1157.48 L404.37,1155.91 L404.32,1154.35 L404.30,1152.78 L404.34,1151.22 L404.46,1149.65 L404.63,1148.09 L404.86,1146.53 L405.14,1144.96 L405.45,1143.40 L405.79,1141.83 L406.14,1140.27 L406.51,1138.71 L406.89,1137.14 L407.33,1135.58 L407.85,1134.01 L408.45,1132.45 L409.11,1130.88 L409.83,1129.32 L410.59,1127.76 L411.39,1126.19 L412.21,1124.63 L413.04,1123.06 L413.88,1121.50 L414.81,1119.94 L415.83,1118.37 L416.90,1116.81 L418.02,1115.24 L419.16,1113.68 L420.31,1112.12 L421.45,1110.55 L422.55,1108.99 L423.60,1107.42 L424.61,1105.86 L425.67,1104.29 L426.76,1102.73 L427.82,1101.17 L428.81,1099.60 L429.69,1098.04 L430.40,1096.47 L430.91,1094.91 L431.35,1093.35 L431.75,1091.78 L432.06,1090.22 L432.26,1088.65 L432.30,1087.09 L432.30,1085.52 L432.30,1083.96 L432.30,1082.40 L432.30,1080.83 L432.30,1079.27 L432.30,1077.70 L432.30,1076.14 L432.30,1074.58 L432.30,1073.01 L432.30,1071.45 L432.30,1069.88 L432.30,1068.32 L432.30,1066.75 L432.30,1065.19 L432.30,1063.63 L432.30,1062.06 L432.30,1060.50 L432.30,1058.93 L432.30,1057.37 L432.30,1055.81 L432.30,1054.24 L432.30,1052.68 L432.30,1051.11 L432.30,1049.55 L432.30,1047.98 L432.30,1046.42 L432.30,1044.86 L432.30,1043.29 L432.30,1041.73 L432.30,1040.16 L432.30,1038.60 Z" fill="url(#g11)" stroke="#26313b" stroke-width="2.6" stroke-linejoin="round"/>
<line x1="398.8" y1="1158.3" x2="467.9" y2="1158.3" stroke="#111" stroke-width="4"/>
<path d="M554.00,1104.00 L554.05,1104.91 L554.20,1105.83 L554.43,1106.74 L554.73,1107.65 L555.07,1108.57 L555.45,1109.48 L555.85,1110.39 L556.34,1111.31 L557.01,1112.22 L557.84,1113.13 L558.78,1114.05 L559.81,1114.96 L560.88,1115.87 L561.96,1116.78 L563.02,1117.70 L564.01,1118.61 L564.93,1119.52 L565.87,1120.44 L566.82,1121.35 L567.77,1122.26 L568.72,1123.18 L569.66,1124.09 L570.57,1125.00 L571.45,1125.92 L572.29,1126.83 L573.09,1127.74 L573.90,1128.66 L574.72,1129.57 L575.54,1130.48 L576.34,1131.40 L577.11,1132.31 L577.83,1133.22 L578.48,1134.14 L579.06,1135.05 L579.55,1135.96 L579.93,1136.88 L580.26,1137.79 L580.58,1138.70 L580.89,1139.62 L581.18,1140.53 L581.44,1141.44 L581.68,1142.35 L581.88,1143.27 L582.03,1144.18 L582.14,1145.09 L582.19,1146.01 L582.20,1146.92 L582.19,1147.83 L582.18,1148.75 L582.17,1149.66 L582.15,1150.57 L582.12,1151.49 L582.09,1152.40 L582.06,1153.31 L582.02,1154.23 L581.98,1155.14 L581.86,1156.05 L581.67,1156.97 L581.41,1157.88 L581.09,1158.79 L580.74,1159.71 L580.36,1160.62 L579.96,1161.53 L579.56,1162.45 L579.16,1163.36 L578.79,1164.27 L578.45,1165.18 L578.16,1166.10 L577.93,1167.01 L577.72,1167.92 L577.52,1168.84 L577.34,1169.75 L577.17,1170.66 L577.01,1171.58 L576.85,1172.49 L576.69,1173.40 L576.53,1174.32 L576.37,1175.23 L576.21,1176.14 L576.04,1177.06 L575.85,1177.97 L575.66,1178.88 L575.46,1179.80 L575.26,1180.71 L575.07,1181.62 L574.86,1182.54 L574.66,1183.45 L574.44,1184.36 L574.22,1185.28 L573.99,1186.19 L573.75,1187.10 L573.50,1188.02 L573.23,1188.93 L572.95,1189.84 L572.65,1190.75 L572.31,1191.67 L571.92,1192.58 L571.50,1193.49 L571.04,1194.41 L570.56,1195.32 L570.07,1196.23 L569.56,1197.15 L569.05,1198.06 L568.54,1198.97 L568.04,1199.89 L567.57,1200.80 L567.11,1201.71 L566.69,1202.63 L566.29,1203.54 L565.89,1204.45 L565.51,1205.37 L565.13,1206.28 L564.76,1207.19 L564.39,1208.11 L564.03,1209.02 L563.67,1209.93 L563.32,1210.85 L562.97,1211.76 L562.63,1212.67 L562.28,1213.58 L561.94,1214.50 L561.60,1215.41 L561.26,1216.32 L560.92,1217.24 L560.59,1218.15 L560.26,1219.06 L559.93,1219.98 L559.60,1220.89 L559.28,1221.80 L558.97,1222.72 L558.65,1223.63 L558.35,1224.54 L558.04,1225.46 L557.74,1226.37 L557.44,1227.28 L557.11,1228.20 L556.77,1229.11 L556.43,1230.02 L556.08,1230.94 L555.75,1231.85 L555.42,1232.76 L555.11,1233.68 L554.84,1234.59 L554.59,1235.50 L554.38,1236.42 L554.23,1237.33 L554.12,1238.24 L554.06,1239.15 L554.00,1240.07 L553.95,1240.98 L553.90,1241.89 L553.86,1242.81 L553.82,1243.72 L553.78,1244.63 L553.75,1245.55 L553.73,1246.46 L553.71,1247.37 L553.70,1248.29 L553.70,1249.20 L551.90,1249.20 L551.90,1248.29 L551.89,1247.37 L551.87,1246.46 L551.85,1245.55 L551.82,1244.63 L551.78,1243.72 L551.74,1242.81 L551.70,1241.89 L551.65,1240.98 L551.60,1240.07 L551.54,1239.15 L551.48,1238.24 L551.37,1237.33 L551.22,1236.42 L551.01,1235.50 L550.76,1234.59 L550.49,1233.68 L550.18,1232.76 L549.85,1231.85 L549.52,1230.94 L549.17,1230.02 L548.83,1229.11 L548.49,1228.20 L548.16,1227.28 L547.86,1226.37 L547.56,1225.46 L547.25,1224.54 L546.95,1223.63 L546.63,1222.72 L546.32,1221.80 L546.00,1220.89 L545.67,1219.98 L545.34,1219.06 L545.01,1218.15 L544.68,1217.24 L544.34,1216.32 L544.00,1215.41 L543.66,1214.50 L543.32,1213.58 L542.97,1212.67 L542.63,1211.76 L542.28,1210.85 L541.93,1209.93 L541.57,1209.02 L541.21,1208.11 L540.84,1207.19 L540.47,1206.28 L540.09,1205.37 L539.71,1204.45 L539.31,1203.54 L538.91,1202.63 L538.49,1201.71 L538.03,1200.80 L537.56,1199.89 L537.06,1198.97 L536.55,1198.06 L536.04,1197.15 L535.53,1196.23 L535.04,1195.32 L534.56,1194.41 L534.10,1193.49 L533.68,1192.58 L533.29,1191.67 L532.95,1190.75 L532.65,1189.84 L532.37,1188.93 L532.10,1188.02 L531.85,1187.10 L531.61,1186.19 L531.38,1185.28 L531.16,1184.36 L530.94,1183.45 L530.74,1182.54 L530.53,1181.62 L530.34,1180.71 L530.14,1179.80 L529.94,1178.88 L529.75,1177.97 L529.56,1177.06 L529.39,1176.14 L529.23,1175.23 L529.07,1174.32 L528.91,1173.40 L528.75,1172.49 L528.59,1171.58 L528.43,1170.66 L528.26,1169.75 L528.08,1168.84 L527.88,1167.92 L527.67,1167.01 L527.44,1166.10 L527.15,1165.18 L526.81,1164.27 L526.44,1163.36 L526.04,1162.45 L525.64,1161.53 L525.24,1160.62 L524.86,1159.71 L524.51,1158.79 L524.19,1157.88 L523.93,1156.97 L523.74,1156.05 L523.62,1155.14 L523.58,1154.23 L523.54,1153.31 L523.51,1152.40 L523.48,1151.49 L523.45,1150.57 L523.43,1149.66 L523.42,1148.75 L523.41,1147.83 L523.40,1146.92 L523.41,1146.01 L523.46,1145.09 L523.57,1144.18 L523.72,1143.27 L523.92,1142.35 L524.16,1141.44 L524.42,1140.53 L524.71,1139.62 L525.02,1138.70 L525.34,1137.79 L525.67,1136.88 L526.05,1135.96 L526.54,1135.05 L527.12,1134.14 L527.77,1133.22 L528.49,1132.31 L529.26,1131.40 L530.06,1130.48 L530.88,1129.57 L531.70,1128.66 L532.51,1127.74 L533.31,1126.83 L534.15,1125.92 L535.03,1125.00 L535.94,1124.09 L536.88,1123.18 L537.83,1122.26 L538.78,1121.35 L539.73,1120.44 L540.67,1119.52 L541.59,1118.61 L542.58,1117.70 L543.64,1116.78 L544.72,1115.87 L545.79,1114.96 L546.82,1114.05 L547.76,1113.13 L548.59,1112.22 L549.26,1111.31 L549.75,1110.39 L550.15,1109.48 L550.53,1108.57 L550.87,1107.65 L551.17,1106.74 L551.40,1105.83 L551.55,1104.91 L551.60,1104.00 Z" fill="url(#g12)" stroke="#26313b" stroke-width="2.6" stroke-linejoin="round"/>
<line x1="517.8" y1="1159.0" x2="587.7" y2="1159.0" stroke="#111" stroke-width="4"/>
<path d="M707.00,1075.00 L707.00,1076.33 L707.00,1077.66 L707.01,1078.99 L707.01,1080.33 L707.02,1081.66 L707.03,1082.99 L707.04,1084.32 L707.05,1085.65 L707.06,1086.98 L707.08,1088.31 L707.09,1089.65 L707.11,1090.98 L707.12,1092.31 L707.14,1093.64 L707.16,1094.97 L707.17,1096.30 L707.19,1097.63 L707.21,1098.97 L707.23,1100.30 L707.25,1101.63 L707.27,1102.96 L707.30,1104.29 L707.33,1105.62 L707.36,1106.95 L707.40,1108.29 L707.44,1109.62 L707.49,1110.95 L707.55,1112.28 L707.62,1113.61 L707.70,1114.94 L707.87,1116.27 L708.21,1117.61 L708.68,1118.94 L709.23,1120.27 L709.83,1121.60 L710.44,1122.93 L711.04,1124.26 L711.72,1125.59 L712.47,1126.93 L713.27,1128.26 L714.12,1129.59 L715.00,1130.92 L715.90,1132.25 L716.81,1133.58 L717.71,1134.92 L718.60,1136.25 L719.48,1137.58 L720.41,1138.91 L721.36,1140.24 L722.33,1141.57 L723.30,1142.90 L724.27,1144.24 L725.22,1145.57 L726.15,1146.90 L727.02,1148.23 L727.84,1149.56 L728.61,1150.89 L729.38,1152.22 L730.12,1153.56 L730.85,1154.89 L731.55,1156.22 L732.21,1157.55 L732.81,1158.88 L733.36,1160.21 L733.85,1161.54 L734.30,1162.88 L734.76,1164.21 L735.20,1165.54 L735.61,1166.87 L735.96,1168.20 L736.22,1169.53 L736.37,1170.86 L736.39,1172.20 L736.27,1173.53 L736.03,1174.86 L735.71,1176.19 L735.31,1177.52 L734.87,1178.85 L734.41,1180.18 L733.96,1181.52 L733.50,1182.85 L732.97,1184.18 L732.38,1185.51 L731.74,1186.84 L731.06,1188.17 L730.35,1189.50 L729.60,1190.84 L728.84,1192.17 L728.07,1193.50 L727.30,1194.83 L726.50,1196.16 L725.64,1197.49 L724.73,1198.82 L723.79,1200.16 L722.83,1201.49 L721.86,1202.82 L720.90,1204.15 L719.96,1205.48 L719.05,1206.81 L718.20,1208.14 L717.37,1209.48 L716.52,1210.81 L715.67,1212.14 L714.83,1213.47 L714.01,1214.80 L713.22,1216.13 L712.48,1217.46 L711.80,1218.80 L711.20,1220.13 L710.68,1221.46 L710.23,1222.79 L709.78,1224.12 L709.35,1225.45 L708.96,1226.78 L708.62,1228.12 L708.35,1229.45 L708.17,1230.78 L708.08,1232.11 L708.03,1233.44 L707.98,1234.77 L707.94,1236.11 L707.91,1237.44 L707.88,1238.77 L707.86,1240.10 L707.83,1241.43 L707.81,1242.76 L707.79,1244.09 L707.76,1245.43 L707.74,1246.76 L707.71,1248.09 L707.67,1249.42 L707.63,1250.75 L707.59,1252.08 L707.55,1253.41 L707.51,1254.75 L707.47,1256.08 L707.43,1257.41 L707.39,1258.74 L707.35,1260.07 L707.31,1261.40 L707.27,1262.73 L707.23,1264.07 L707.19,1265.40 L707.15,1266.73 L707.11,1268.06 L707.07,1269.39 L707.04,1270.72 L707.00,1272.05 L706.96,1273.39 L706.92,1274.72 L706.89,1276.05 L706.85,1277.38 L706.81,1278.71 L706.78,1280.04 L706.74,1281.37 L706.71,1282.71 L706.67,1284.04 L706.64,1285.37 L706.60,1286.70 L704.80,1286.70 L704.76,1285.37 L704.73,1284.04 L704.69,1282.71 L704.66,1281.37 L704.62,1280.04 L704.59,1278.71 L704.55,1277.38 L704.51,1276.05 L704.48,1274.72 L704.44,1273.39 L704.40,1272.05 L704.36,1270.72 L704.33,1269.39 L704.29,1268.06 L704.25,1266.73 L704.21,1265.40 L704.17,1264.07 L704.13,1262.73 L704.09,1261.40 L704.05,1260.07 L704.01,1258.74 L703.97,1257.41 L703.93,1256.08 L703.89,1254.75 L703.85,1253.41 L703.81,1252.08 L703.77,1250.75 L703.73,1249.42 L703.69,1248.09 L703.66,1246.76 L703.64,1245.43 L703.61,1244.09 L703.59,1242.76 L703.57,1241.43 L703.54,1240.10 L703.52,1238.77 L703.49,1237.44 L703.46,1236.11 L703.42,1234.77 L703.37,1233.44 L703.32,1232.11 L703.23,1230.78 L703.05,1229.45 L702.78,1228.12 L702.44,1226.78 L702.05,1225.45 L701.62,1224.12 L701.17,1222.79 L700.72,1221.46 L700.20,1220.13 L699.60,1218.80 L698.92,1217.46 L698.18,1216.13 L697.39,1214.80 L696.57,1213.47 L695.73,1212.14 L694.88,1210.81 L694.03,1209.48 L693.20,1208.14 L692.35,1206.81 L691.44,1205.48 L690.50,1204.15 L689.54,1202.82 L688.57,1201.49 L687.61,1200.16 L686.67,1198.82 L685.76,1197.49 L684.90,1196.16 L684.10,1194.83 L683.33,1193.50 L682.56,1192.17 L681.80,1190.84 L681.05,1189.50 L680.34,1188.17 L679.66,1186.84 L679.02,1185.51 L678.43,1184.18 L677.90,1182.85 L677.44,1181.52 L676.99,1180.18 L676.53,1178.85 L676.09,1177.52 L675.69,1176.19 L675.37,1174.86 L675.13,1173.53 L675.01,1172.20 L675.03,1170.86 L675.18,1169.53 L675.44,1168.20 L675.79,1166.87 L676.20,1165.54 L676.64,1164.21 L677.10,1162.88 L677.55,1161.54 L678.04,1160.21 L678.59,1158.88 L679.19,1157.55 L679.85,1156.22 L680.55,1154.89 L681.28,1153.56 L682.02,1152.22 L682.79,1150.89 L683.56,1149.56 L684.38,1148.23 L685.25,1146.90 L686.18,1145.57 L687.13,1144.24 L688.10,1142.90 L689.07,1141.57 L690.04,1140.24 L690.99,1138.91 L691.92,1137.58 L692.80,1136.25 L693.69,1134.92 L694.59,1133.58 L695.50,1132.25 L696.40,1130.92 L697.28,1129.59 L698.13,1128.26 L698.93,1126.93 L699.68,1125.59 L700.36,1124.26 L700.96,1122.93 L701.57,1121.60 L702.17,1120.27 L702.72,1118.94 L703.19,1117.61 L703.53,1116.27 L703.70,1114.94 L703.78,1113.61 L703.85,1112.28 L703.91,1110.95 L703.96,1109.62 L704.00,1108.29 L704.04,1106.95 L704.07,1105.62 L704.10,1104.29 L704.13,1102.96 L704.15,1101.63 L704.17,1100.30 L704.19,1098.97 L704.21,1097.63 L704.23,1096.30 L704.24,1094.97 L704.26,1093.64 L704.28,1092.31 L704.29,1090.98 L704.31,1089.65 L704.32,1088.31 L704.34,1086.98 L704.35,1085.65 L704.36,1084.32 L704.37,1082.99 L704.38,1081.66 L704.39,1080.33 L704.39,1078.99 L704.40,1077.66 L704.40,1076.33 L704.40,1075.00 Z" fill="url(#g13)" stroke="#26313b" stroke-width="2.6" stroke-linejoin="round"/>
<line x1="671.8" y1="1174.2" x2="740.2" y2="1174.2" stroke="#111" stroke-width="4"/>
<path d="M826.30,1038.50 L826.33,1040.01 L826.36,1041.52 L826.40,1043.03 L826.44,1044.54 L826.49,1046.05 L826.54,1047.56 L826.60,1049.07 L826.66,1050.59 L826.73,1052.10 L826.80,1053.61 L826.88,1055.12 L826.95,1056.63 L827.04,1058.14 L827.12,1059.65 L827.21,1061.16 L827.31,1062.67 L827.40,1064.18 L827.50,1065.69 L827.60,1067.20 L827.70,1068.71 L827.81,1070.22 L827.92,1071.74 L828.03,1073.25 L828.14,1074.76 L828.25,1076.27 L828.37,1077.78 L828.48,1079.29 L828.60,1080.80 L828.72,1082.31 L828.84,1083.82 L828.96,1085.33 L829.08,1086.84 L829.22,1088.35 L829.36,1089.86 L829.51,1091.37 L829.67,1092.88 L829.84,1094.40 L830.02,1095.91 L830.21,1097.42 L830.41,1098.93 L830.63,1100.44 L830.85,1101.95 L831.12,1103.46 L831.41,1104.97 L831.74,1106.48 L832.10,1107.99 L832.48,1109.50 L832.88,1111.01 L833.29,1112.52 L833.71,1114.03 L834.14,1115.55 L834.57,1117.06 L834.99,1118.57 L835.41,1120.08 L835.83,1121.59 L836.26,1123.10 L836.70,1124.61 L837.16,1126.12 L837.62,1127.63 L838.08,1129.14 L838.55,1130.65 L839.01,1132.16 L839.47,1133.67 L839.93,1135.18 L840.37,1136.69 L840.80,1138.21 L841.21,1139.72 L841.62,1141.23 L842.03,1142.74 L842.43,1144.25 L842.83,1145.76 L843.22,1147.27 L843.61,1148.78 L843.99,1150.29 L844.36,1151.80 L844.72,1153.31 L845.08,1154.82 L845.42,1156.33 L845.75,1157.84 L846.08,1159.36 L846.44,1160.87 L846.81,1162.38 L847.18,1163.89 L847.54,1165.40 L847.87,1166.91 L848.15,1168.42 L848.38,1169.93 L848.53,1171.44 L848.60,1172.95 L848.54,1174.46 L848.33,1175.97 L847.98,1177.48 L847.53,1178.99 L847.00,1180.51 L846.41,1182.02 L845.79,1183.53 L845.16,1185.04 L844.55,1186.55 L843.98,1188.06 L843.45,1189.57 L842.88,1191.08 L842.30,1192.59 L841.70,1194.10 L841.08,1195.61 L840.45,1197.12 L839.82,1198.63 L839.19,1200.14 L838.56,1201.65 L837.94,1203.17 L837.33,1204.68 L836.75,1206.19 L836.18,1207.70 L835.60,1209.21 L835.01,1210.72 L834.41,1212.23 L833.82,1213.74 L833.23,1215.25 L832.66,1216.76 L832.11,1218.27 L831.58,1219.78 L831.08,1221.29 L830.61,1222.80 L830.19,1224.32 L829.82,1225.83 L829.47,1227.34 L829.12,1228.85 L828.78,1230.36 L828.45,1231.87 L828.13,1233.38 L827.83,1234.89 L827.55,1236.40 L827.30,1237.91 L827.08,1239.42 L826.89,1240.93 L826.74,1242.44 L826.64,1243.95 L826.58,1245.46 L826.53,1246.98 L826.48,1248.49 L826.43,1250.00 L826.39,1251.51 L826.35,1253.02 L826.31,1254.53 L826.27,1256.04 L826.24,1257.55 L826.20,1259.06 L826.17,1260.57 L826.15,1262.08 L826.12,1263.59 L826.10,1265.10 L826.08,1266.61 L826.06,1268.13 L826.04,1269.64 L826.03,1271.15 L826.02,1272.66 L826.01,1274.17 L826.00,1275.68 L826.00,1277.19 L826.00,1278.70 L824.20,1278.70 L824.20,1277.19 L824.20,1275.68 L824.19,1274.17 L824.18,1272.66 L824.17,1271.15 L824.16,1269.64 L824.14,1268.13 L824.12,1266.61 L824.10,1265.10 L824.08,1263.59 L824.05,1262.08 L824.03,1260.57 L824.00,1259.06 L823.96,1257.55 L823.93,1256.04 L823.89,1254.53 L823.85,1253.02 L823.81,1251.51 L823.77,1250.00 L823.72,1248.49 L823.67,1246.98 L823.62,1245.46 L823.56,1243.95 L823.46,1242.44 L823.31,1240.93 L823.12,1239.42 L822.90,1237.91 L822.65,1236.40 L822.37,1234.89 L822.07,1233.38 L821.75,1231.87 L821.42,1230.36 L821.08,1228.85 L820.73,1227.34 L820.38,1225.83 L820.01,1224.32 L819.59,1222.80 L819.12,1221.29 L818.62,1219.78 L818.09,1218.27 L817.54,1216.76 L816.97,1215.25 L816.38,1213.74 L815.79,1212.23 L815.19,1210.72 L814.60,1209.21 L814.02,1207.70 L813.45,1206.19 L812.87,1204.68 L812.26,1203.17 L811.64,1201.65 L811.01,1200.14 L810.38,1198.63 L809.75,1197.12 L809.12,1195.61 L808.50,1194.10 L807.90,1192.59 L807.32,1191.08 L806.75,1189.57 L806.22,1188.06 L805.65,1186.55 L805.04,1185.04 L804.41,1183.53 L803.79,1182.02 L803.20,1180.51 L802.67,1178.99 L802.22,1177.48 L801.87,1175.97 L801.66,1174.46 L801.60,1172.95 L801.67,1171.44 L801.82,1169.93 L802.05,1168.42 L802.33,1166.91 L802.66,1165.40 L803.02,1163.89 L803.39,1162.38 L803.76,1160.87 L804.12,1159.36 L804.45,1157.84 L804.78,1156.33 L805.12,1154.82 L805.48,1153.31 L805.84,1151.80 L806.21,1150.29 L806.59,1148.78 L806.98,1147.27 L807.37,1145.76 L807.77,1144.25 L808.17,1142.74 L808.58,1141.23 L808.99,1139.72 L809.40,1138.21 L809.83,1136.69 L810.27,1135.18 L810.73,1133.67 L811.19,1132.16 L811.65,1130.65 L812.12,1129.14 L812.58,1127.63 L813.04,1126.12 L813.50,1124.61 L813.94,1123.10 L814.37,1121.59 L814.79,1120.08 L815.21,1118.57 L815.63,1117.06 L816.06,1115.55 L816.49,1114.03 L816.91,1112.52 L817.32,1111.01 L817.72,1109.50 L818.10,1107.99 L818.46,1106.48 L818.79,1104.97 L819.08,1103.46 L819.35,1101.95 L819.57,1100.44 L819.79,1098.93 L819.99,1097.42 L820.18,1095.91 L820.36,1094.40 L820.53,1092.88 L820.69,1091.37 L820.84,1089.86 L820.98,1088.35 L821.12,1086.84 L821.24,1085.33 L821.36,1083.82 L821.48,1082.31 L821.60,1080.80 L821.72,1079.29 L821.83,1077.78 L821.95,1076.27 L822.06,1074.76 L822.17,1073.25 L822.28,1071.74 L822.39,1070.22 L822.50,1068.71 L822.60,1067.20 L822.70,1065.69 L822.80,1064.18 L822.89,1062.67 L822.99,1061.16 L823.08,1059.65 L823.16,1058.14 L823.25,1056.63 L823.32,1055.12 L823.40,1053.61 L823.47,1052.10 L823.54,1050.59 L823.60,1049.07 L823.66,1047.56 L823.71,1046.05 L823.76,1044.54 L823.80,1043.03 L823.84,1041.52 L823.87,1040.01 L823.90,1038.50 Z" fill="url(#g14)" stroke="#26313b" stroke-width="2.6" stroke-linejoin="round"/>
<line x1="790.6" y1="1169.0" x2="860.3" y2="1169.0" stroke="#111" stroke-width="4"/>
<path d="M945.10,1052.60 L945.10,1053.70 L945.10,1054.81 L945.11,1055.91 L945.12,1057.02 L945.12,1058.12 L945.14,1059.22 L945.15,1060.33 L945.16,1061.43 L945.18,1062.53 L945.20,1063.64 L945.22,1064.74 L945.24,1065.85 L945.26,1066.95 L945.28,1068.05 L945.31,1069.16 L945.34,1070.26 L945.37,1071.36 L945.40,1072.47 L945.44,1073.57 L945.52,1074.68 L945.62,1075.78 L945.74,1076.88 L945.88,1077.99 L946.05,1079.09 L946.22,1080.19 L946.42,1081.30 L946.62,1082.40 L946.83,1083.51 L947.05,1084.61 L947.28,1085.71 L947.51,1086.82 L947.78,1087.92 L948.10,1089.02 L948.44,1090.13 L948.82,1091.23 L949.23,1092.34 L949.65,1093.44 L950.08,1094.54 L950.53,1095.65 L950.98,1096.75 L951.42,1097.85 L951.86,1098.96 L952.29,1100.06 L952.72,1101.17 L953.17,1102.27 L953.65,1103.37 L954.14,1104.48 L954.63,1105.58 L955.13,1106.68 L955.61,1107.79 L956.08,1108.89 L956.53,1110.00 L956.95,1111.10 L957.33,1112.20 L957.67,1113.31 L957.96,1114.41 L958.22,1115.52 L958.45,1116.62 L958.66,1117.72 L958.86,1118.83 L959.05,1119.93 L959.24,1121.03 L959.42,1122.14 L959.61,1123.24 L959.81,1124.35 L960.02,1125.45 L960.26,1126.55 L960.51,1127.66 L960.79,1128.76 L961.06,1129.86 L961.35,1130.97 L961.66,1132.07 L961.98,1133.18 L962.33,1134.28 L962.70,1135.38 L963.11,1136.49 L963.56,1137.59 L964.04,1138.69 L964.66,1139.80 L965.43,1140.90 L966.33,1142.01 L967.31,1143.11 L968.35,1144.21 L969.39,1145.32 L970.42,1146.42 L971.38,1147.52 L972.25,1148.63 L972.98,1149.73 L973.69,1150.84 L974.43,1151.94 L975.16,1153.04 L975.86,1154.15 L976.49,1155.25 L977.02,1156.35 L977.42,1157.46 L977.65,1158.56 L977.69,1159.67 L977.58,1160.77 L977.36,1161.87 L977.04,1162.98 L976.63,1164.08 L976.16,1165.18 L975.63,1166.29 L975.08,1167.39 L974.51,1168.50 L973.90,1169.60 L973.10,1170.70 L972.15,1171.81 L971.07,1172.91 L969.89,1174.02 L968.64,1175.12 L967.36,1176.22 L966.09,1177.33 L964.85,1178.43 L963.67,1179.53 L962.55,1180.64 L961.39,1181.74 L960.19,1182.85 L958.97,1183.95 L957.77,1185.05 L956.59,1186.16 L955.47,1187.26 L954.41,1188.36 L953.45,1189.47 L952.60,1190.57 L951.85,1191.68 L951.14,1192.78 L950.45,1193.88 L949.80,1194.99 L949.18,1196.09 L948.61,1197.19 L948.09,1198.30 L947.62,1199.40 L947.22,1200.51 L946.90,1201.61 L946.63,1202.71 L946.38,1203.82 L946.13,1204.92 L945.90,1206.02 L945.69,1207.13 L945.50,1208.23 L945.35,1209.34 L945.23,1210.44 L945.14,1211.54 L945.10,1212.65 L945.10,1213.75 L945.10,1214.85 L945.10,1215.96 L945.10,1217.06 L945.10,1218.17 L945.10,1219.27 L945.10,1220.37 L945.10,1221.48 L945.10,1222.58 L945.10,1223.68 L945.10,1224.79 L945.10,1225.89 L945.10,1227.00 L945.10,1228.10 L943.30,1228.10 L943.30,1227.00 L943.30,1225.89 L943.30,1224.79 L943.30,1223.68 L943.30,1222.58 L943.30,1221.48 L943.30,1220.37 L943.30,1219.27 L943.30,1218.17 L943.30,1217.06 L943.30,1215.96 L943.30,1214.85 L943.30,1213.75 L943.30,1212.65 L943.26,1211.54 L943.17,1210.44 L943.05,1209.34 L942.90,1208.23 L942.71,1207.13 L942.50,1206.02 L942.27,1204.92 L942.02,1203.82 L941.77,1202.71 L941.50,1201.61 L941.18,1200.51 L940.78,1199.40 L940.31,1198.30 L939.79,1197.19 L939.22,1196.09 L938.60,1194.99 L937.95,1193.88 L937.26,1192.78 L936.55,1191.68 L935.80,1190.57 L934.95,1189.47 L933.99,1188.36 L932.93,1187.26 L931.81,1186.16 L930.63,1185.05 L929.43,1183.95 L928.21,1182.85 L927.01,1181.74 L925.85,1180.64 L924.73,1179.53 L923.55,1178.43 L922.31,1177.33 L921.04,1176.22 L919.76,1175.12 L918.51,1174.02 L917.33,1172.91 L916.25,1171.81 L915.30,1170.70 L914.50,1169.60 L913.89,1168.50 L913.32,1167.39 L912.77,1166.29 L912.24,1165.18 L911.77,1164.08 L911.36,1162.98 L911.04,1161.87 L910.82,1160.77 L910.71,1159.67 L910.75,1158.56 L910.98,1157.46 L911.38,1156.35 L911.91,1155.25 L912.54,1154.15 L913.24,1153.04 L913.97,1151.94 L914.71,1150.84 L915.42,1149.73 L916.15,1148.63 L917.02,1147.52 L917.98,1146.42 L919.01,1145.32 L920.05,1144.21 L921.09,1143.11 L922.07,1142.01 L922.97,1140.90 L923.74,1139.80 L924.36,1138.69 L924.84,1137.59 L925.29,1136.49 L925.70,1135.38 L926.07,1134.28 L926.42,1133.18 L926.74,1132.07 L927.05,1130.97 L927.34,1129.86 L927.61,1128.76 L927.89,1127.66 L928.14,1126.55 L928.38,1125.45 L928.59,1124.35 L928.79,1123.24 L928.98,1122.14 L929.16,1121.03 L929.35,1119.93 L929.54,1118.83 L929.74,1117.72 L929.95,1116.62 L930.18,1115.52 L930.44,1114.41 L930.73,1113.31 L931.07,1112.20 L931.45,1111.10 L931.87,1110.00 L932.32,1108.89 L932.79,1107.79 L933.27,1106.68 L933.77,1105.58 L934.26,1104.48 L934.75,1103.37 L935.23,1102.27 L935.68,1101.17 L936.11,1100.06 L936.54,1098.96 L936.98,1097.85 L937.42,1096.75 L937.87,1095.65 L938.32,1094.54 L938.75,1093.44 L939.17,1092.34 L939.58,1091.23 L939.96,1090.13 L940.30,1089.02 L940.62,1087.92 L940.89,1086.82 L941.12,1085.71 L941.35,1084.61 L941.57,1083.51 L941.78,1082.40 L941.98,1081.30 L942.18,1080.19 L942.35,1079.09 L942.52,1077.99 L942.66,1076.88 L942.78,1075.78 L942.88,1074.68 L942.96,1073.57 L943.00,1072.47 L943.03,1071.36 L943.06,1070.26 L943.09,1069.16 L943.12,1068.05 L943.14,1066.95 L943.16,1065.85 L943.18,1064.74 L943.20,1063.64 L943.22,1062.53 L943.24,1061.43 L943.25,1060.33 L943.26,1059.22 L943.28,1058.12 L943.28,1057.02 L943.29,1055.91 L943.30,1054.81 L943.30,1053.70 L943.30,1052.60 Z" fill="url(#g15)" stroke="#26313b" stroke-width="2.6" stroke-linejoin="round"/>
<line x1="909.5" y1="1158.6" x2="979.0" y2="1158.6" stroke="#111" stroke-width="4"/>
<path d="M1098.50,1050.60 L1098.50,1051.71 L1098.51,1052.81 L1098.52,1053.92 L1098.53,1055.03 L1098.54,1056.13 L1098.56,1057.24 L1098.58,1058.34 L1098.61,1059.45 L1098.64,1060.56 L1098.67,1061.66 L1098.70,1062.77 L1098.74,1063.88 L1098.78,1064.98 L1098.85,1066.09 L1098.99,1067.19 L1099.22,1068.30 L1099.51,1069.41 L1099.86,1070.51 L1100.25,1071.62 L1100.67,1072.73 L1101.11,1073.83 L1101.55,1074.94 L1102.02,1076.04 L1102.56,1077.15 L1103.18,1078.26 L1103.86,1079.36 L1104.59,1080.47 L1105.35,1081.58 L1106.15,1082.68 L1106.96,1083.79 L1107.78,1084.89 L1108.60,1086.00 L1109.48,1087.11 L1110.41,1088.21 L1111.37,1089.32 L1112.37,1090.43 L1113.38,1091.53 L1114.39,1092.64 L1115.41,1093.75 L1116.43,1094.85 L1117.42,1095.96 L1118.41,1097.06 L1119.46,1098.17 L1120.58,1099.28 L1121.72,1100.38 L1122.85,1101.49 L1123.96,1102.60 L1125.00,1103.70 L1125.94,1104.81 L1126.77,1105.91 L1127.44,1107.02 L1127.93,1108.13 L1128.37,1109.23 L1128.80,1110.34 L1129.20,1111.45 L1129.57,1112.55 L1129.89,1113.66 L1130.17,1114.76 L1130.38,1115.87 L1130.53,1116.98 L1130.60,1118.08 L1130.52,1119.19 L1130.17,1120.30 L1129.58,1121.40 L1128.83,1122.51 L1127.98,1123.62 L1127.07,1124.72 L1126.17,1125.83 L1125.34,1126.93 L1124.62,1128.04 L1123.89,1129.15 L1123.13,1130.25 L1122.35,1131.36 L1121.57,1132.47 L1120.81,1133.57 L1120.08,1134.68 L1119.40,1135.78 L1118.78,1136.89 L1118.26,1138.00 L1117.83,1139.10 L1117.47,1140.21 L1117.14,1141.32 L1116.85,1142.42 L1116.58,1143.53 L1116.33,1144.63 L1116.09,1145.74 L1115.86,1146.85 L1115.62,1147.95 L1115.37,1149.06 L1115.11,1150.17 L1114.84,1151.27 L1114.59,1152.38 L1114.34,1153.48 L1114.10,1154.59 L1113.85,1155.70 L1113.60,1156.80 L1113.33,1157.91 L1113.04,1159.02 L1112.73,1160.12 L1112.39,1161.23 L1112.00,1162.34 L1111.55,1163.44 L1111.04,1164.55 L1110.49,1165.65 L1109.90,1166.76 L1109.29,1167.87 L1108.67,1168.97 L1108.05,1170.08 L1107.44,1171.19 L1106.86,1172.29 L1106.29,1173.40 L1105.70,1174.50 L1105.09,1175.61 L1104.46,1176.72 L1103.84,1177.82 L1103.23,1178.93 L1102.65,1180.04 L1102.12,1181.14 L1101.64,1182.25 L1101.23,1183.35 L1100.90,1184.46 L1100.59,1185.57 L1100.29,1186.67 L1100.00,1187.78 L1099.73,1188.89 L1099.48,1189.99 L1099.27,1191.10 L1099.08,1192.21 L1098.94,1193.31 L1098.84,1194.42 L1098.80,1195.52 L1098.77,1196.63 L1098.75,1197.74 L1098.73,1198.84 L1098.71,1199.95 L1098.69,1201.06 L1098.68,1202.16 L1098.66,1203.27 L1098.64,1204.37 L1098.63,1205.48 L1098.61,1206.59 L1098.60,1207.69 L1098.59,1208.80 L1098.58,1209.91 L1098.57,1211.01 L1098.56,1212.12 L1098.55,1213.22 L1098.54,1214.33 L1098.53,1215.44 L1098.53,1216.54 L1098.52,1217.65 L1098.52,1218.76 L1098.51,1219.86 L1098.51,1220.97 L1098.50,1222.07 L1098.50,1223.18 L1098.50,1224.29 L1098.50,1225.39 L1098.50,1226.50 L1096.70,1226.50 L1096.70,1225.39 L1096.70,1224.29 L1096.70,1223.18 L1096.70,1222.07 L1096.69,1220.97 L1096.69,1219.86 L1096.68,1218.76 L1096.68,1217.65 L1096.67,1216.54 L1096.67,1215.44 L1096.66,1214.33 L1096.65,1213.22 L1096.64,1212.12 L1096.63,1211.01 L1096.62,1209.91 L1096.61,1208.80 L1096.60,1207.69 L1096.59,1206.59 L1096.57,1205.48 L1096.56,1204.37 L1096.54,1203.27 L1096.52,1202.16 L1096.51,1201.06 L1096.49,1199.95 L1096.47,1198.84 L1096.45,1197.74 L1096.43,1196.63 L1096.40,1195.52 L1096.36,1194.42 L1096.26,1193.31 L1096.12,1192.21 L1095.93,1191.10 L1095.72,1189.99 L1095.47,1188.89 L1095.20,1187.78 L1094.91,1186.67 L1094.61,1185.57 L1094.30,1184.46 L1093.97,1183.35 L1093.56,1182.25 L1093.08,1181.14 L1092.55,1180.04 L1091.97,1178.93 L1091.36,1177.82 L1090.74,1176.72 L1090.11,1175.61 L1089.50,1174.50 L1088.91,1173.40 L1088.34,1172.29 L1087.76,1171.19 L1087.15,1170.08 L1086.53,1168.97 L1085.91,1167.87 L1085.30,1166.76 L1084.71,1165.65 L1084.16,1164.55 L1083.65,1163.44 L1083.20,1162.34 L1082.81,1161.23 L1082.47,1160.12 L1082.16,1159.02 L1081.87,1157.91 L1081.60,1156.80 L1081.35,1155.70 L1081.10,1154.59 L1080.86,1153.48 L1080.61,1152.38 L1080.36,1151.27 L1080.09,1150.17 L1079.83,1149.06 L1079.58,1147.95 L1079.34,1146.85 L1079.11,1145.74 L1078.87,1144.63 L1078.62,1143.53 L1078.35,1142.42 L1078.06,1141.32 L1077.73,1140.21 L1077.37,1139.10 L1076.94,1138.00 L1076.42,1136.89 L1075.80,1135.78 L1075.12,1134.68 L1074.39,1133.57 L1073.63,1132.47 L1072.85,1131.36 L1072.07,1130.25 L1071.31,1129.15 L1070.58,1128.04 L1069.86,1126.93 L1069.03,1125.83 L1068.13,1124.72 L1067.22,1123.62 L1066.37,1122.51 L1065.62,1121.40 L1065.03,1120.30 L1064.68,1119.19 L1064.60,1118.08 L1064.67,1116.98 L1064.82,1115.87 L1065.03,1114.76 L1065.31,1113.66 L1065.63,1112.55 L1066.00,1111.45 L1066.40,1110.34 L1066.83,1109.23 L1067.27,1108.13 L1067.76,1107.02 L1068.43,1105.91 L1069.26,1104.81 L1070.20,1103.70 L1071.24,1102.60 L1072.35,1101.49 L1073.48,1100.38 L1074.62,1099.28 L1075.74,1098.17 L1076.79,1097.06 L1077.78,1095.96 L1078.77,1094.85 L1079.79,1093.75 L1080.81,1092.64 L1081.82,1091.53 L1082.83,1090.43 L1083.83,1089.32 L1084.79,1088.21 L1085.72,1087.11 L1086.60,1086.00 L1087.42,1084.89 L1088.24,1083.79 L1089.05,1082.68 L1089.85,1081.58 L1090.61,1080.47 L1091.34,1079.36 L1092.02,1078.26 L1092.64,1077.15 L1093.18,1076.04 L1093.65,1074.94 L1094.09,1073.83 L1094.53,1072.73 L1094.95,1071.62 L1095.34,1070.51 L1095.69,1069.41 L1095.98,1068.30 L1096.21,1067.19 L1096.35,1066.09 L1096.42,1064.98 L1096.46,1063.88 L1096.50,1062.77 L1096.53,1061.66 L1096.56,1060.56 L1096.59,1059.45 L1096.62,1058.34 L1096.64,1057.24 L1096.66,1056.13 L1096.67,1055.03 L1096.68,1053.92 L1096.69,1052.81 L1096.70,1051.71 L1096.70,1050.60 Z" fill="url(#g16)" stroke="#26313b" stroke-width="2.6" stroke-linejoin="round"/>
<line x1="1063.4" y1="1119.8" x2="1131.2" y2="1119.8" stroke="#111" stroke-width="4"/>
<path d="M1218.00,1037.40 L1218.00,1038.91 L1218.01,1040.42 L1218.02,1041.93 L1218.04,1043.44 L1218.07,1044.95 L1218.10,1046.46 L1218.13,1047.97 L1218.17,1049.49 L1218.22,1051.00 L1218.27,1052.51 L1218.33,1054.02 L1218.39,1055.53 L1218.45,1057.04 L1218.52,1058.55 L1218.60,1060.06 L1218.68,1061.57 L1218.76,1063.08 L1218.85,1064.59 L1218.94,1066.10 L1219.04,1067.61 L1219.15,1069.12 L1219.25,1070.64 L1219.36,1072.15 L1219.48,1073.66 L1219.60,1075.17 L1219.72,1076.68 L1219.85,1078.19 L1219.98,1079.70 L1220.14,1081.21 L1220.37,1082.72 L1220.66,1084.23 L1221.00,1085.74 L1221.39,1087.25 L1221.81,1088.76 L1222.26,1090.27 L1222.74,1091.78 L1223.23,1093.30 L1223.74,1094.81 L1224.30,1096.32 L1224.95,1097.83 L1225.68,1099.34 L1226.47,1100.85 L1227.29,1102.36 L1228.12,1103.87 L1228.96,1105.38 L1229.78,1106.89 L1230.57,1108.40 L1231.30,1109.91 L1232.04,1111.42 L1232.81,1112.93 L1233.60,1114.45 L1234.39,1115.96 L1235.15,1117.47 L1235.89,1118.98 L1236.58,1120.49 L1237.21,1122.00 L1237.77,1123.51 L1238.23,1125.02 L1238.60,1126.53 L1238.93,1128.04 L1239.25,1129.55 L1239.56,1131.06 L1239.85,1132.57 L1240.10,1134.08 L1240.32,1135.59 L1240.50,1137.11 L1240.62,1138.62 L1240.69,1140.13 L1240.69,1141.64 L1240.58,1143.15 L1240.38,1144.66 L1240.11,1146.17 L1239.77,1147.68 L1239.39,1149.19 L1238.97,1150.70 L1238.54,1152.21 L1238.11,1153.72 L1237.70,1155.23 L1237.29,1156.74 L1236.83,1158.26 L1236.34,1159.77 L1235.82,1161.28 L1235.27,1162.79 L1234.70,1164.30 L1234.12,1165.81 L1233.54,1167.32 L1232.97,1168.83 L1232.41,1170.34 L1231.86,1171.85 L1231.34,1173.36 L1230.85,1174.87 L1230.36,1176.38 L1229.88,1177.89 L1229.39,1179.41 L1228.91,1180.92 L1228.44,1182.43 L1227.98,1183.94 L1227.53,1185.45 L1227.09,1186.96 L1226.67,1188.47 L1226.26,1189.98 L1225.87,1191.49 L1225.50,1193.00 L1225.15,1194.51 L1224.79,1196.02 L1224.45,1197.53 L1224.11,1199.04 L1223.78,1200.55 L1223.47,1202.07 L1223.16,1203.58 L1222.87,1205.09 L1222.60,1206.60 L1222.35,1208.11 L1222.11,1209.62 L1221.90,1211.13 L1221.70,1212.64 L1221.51,1214.15 L1221.33,1215.66 L1221.17,1217.17 L1221.01,1218.68 L1220.85,1220.19 L1220.71,1221.70 L1220.57,1223.22 L1220.43,1224.73 L1220.29,1226.24 L1220.16,1227.75 L1220.03,1229.26 L1219.90,1230.77 L1219.76,1232.28 L1219.63,1233.79 L1219.49,1235.30 L1219.36,1236.81 L1219.23,1238.32 L1219.11,1239.83 L1219.00,1241.34 L1218.89,1242.85 L1218.79,1244.36 L1218.70,1245.88 L1218.63,1247.39 L1218.56,1248.90 L1218.50,1250.41 L1218.44,1251.92 L1218.38,1253.43 L1218.32,1254.94 L1218.26,1256.45 L1218.21,1257.96 L1218.15,1259.47 L1218.10,1260.98 L1218.06,1262.49 L1218.01,1264.00 L1217.97,1265.51 L1217.93,1267.03 L1217.90,1268.54 L1217.87,1270.05 L1217.85,1271.56 L1217.83,1273.07 L1217.81,1274.58 L1217.80,1276.09 L1217.80,1277.60 L1216.00,1277.60 L1216.00,1276.09 L1215.99,1274.58 L1215.97,1273.07 L1215.95,1271.56 L1215.93,1270.05 L1215.90,1268.54 L1215.87,1267.03 L1215.83,1265.51 L1215.79,1264.00 L1215.74,1262.49 L1215.70,1260.98 L1215.65,1259.47 L1215.59,1257.96 L1215.54,1256.45 L1215.48,1254.94 L1215.42,1253.43 L1215.36,1251.92 L1215.30,1250.41 L1215.24,1248.90 L1215.17,1247.39 L1215.10,1245.88 L1215.01,1244.36 L1214.91,1242.85 L1214.80,1241.34 L1214.69,1239.83 L1214.57,1238.32 L1214.44,1236.81 L1214.31,1235.30 L1214.17,1233.79 L1214.04,1232.28 L1213.90,1230.77 L1213.77,1229.26 L1213.64,1227.75 L1213.51,1226.24 L1213.37,1224.73 L1213.23,1223.22 L1213.09,1221.70 L1212.95,1220.19 L1212.79,1218.68 L1212.63,1217.17 L1212.47,1215.66 L1212.29,1214.15 L1212.10,1212.64 L1211.90,1211.13 L1211.69,1209.62 L1211.45,1208.11 L1211.20,1206.60 L1210.93,1205.09 L1210.64,1203.58 L1210.33,1202.07 L1210.02,1200.55 L1209.69,1199.04 L1209.35,1197.53 L1209.01,1196.02 L1208.65,1194.51 L1208.30,1193.00 L1207.93,1191.49 L1207.54,1189.98 L1207.13,1188.47 L1206.71,1186.96 L1206.27,1185.45 L1205.82,1183.94 L1205.36,1182.43 L1204.89,1180.92 L1204.41,1179.41 L1203.92,1177.89 L1203.44,1176.38 L1202.95,1174.87 L1202.46,1173.36 L1201.94,1171.85 L1201.39,1170.34 L1200.83,1168.83 L1200.26,1167.32 L1199.68,1165.81 L1199.10,1164.30 L1198.53,1162.79 L1197.98,1161.28 L1197.46,1159.77 L1196.97,1158.26 L1196.51,1156.74 L1196.10,1155.23 L1195.69,1153.72 L1195.26,1152.21 L1194.83,1150.70 L1194.41,1149.19 L1194.03,1147.68 L1193.69,1146.17 L1193.42,1144.66 L1193.22,1143.15 L1193.11,1141.64 L1193.11,1140.13 L1193.18,1138.62 L1193.30,1137.11 L1193.48,1135.59 L1193.70,1134.08 L1193.95,1132.57 L1194.24,1131.06 L1194.55,1129.55 L1194.87,1128.04 L1195.20,1126.53 L1195.57,1125.02 L1196.03,1123.51 L1196.59,1122.00 L1197.22,1120.49 L1197.91,1118.98 L1198.65,1117.47 L1199.41,1115.96 L1200.20,1114.45 L1200.99,1112.93 L1201.76,1111.42 L1202.50,1109.91 L1203.23,1108.40 L1204.02,1106.89 L1204.84,1105.38 L1205.68,1103.87 L1206.51,1102.36 L1207.33,1100.85 L1208.12,1099.34 L1208.85,1097.83 L1209.50,1096.32 L1210.06,1094.81 L1210.57,1093.30 L1211.06,1091.78 L1211.54,1090.27 L1211.99,1088.76 L1212.41,1087.25 L1212.80,1085.74 L1213.14,1084.23 L1213.43,1082.72 L1213.66,1081.21 L1213.82,1079.70 L1213.95,1078.19 L1214.08,1076.68 L1214.20,1075.17 L1214.32,1073.66 L1214.44,1072.15 L1214.55,1070.64 L1214.65,1069.12 L1214.76,1067.61 L1214.86,1066.10 L1214.95,1064.59 L1215.04,1063.08 L1215.12,1061.57 L1215.20,1060.06 L1215.28,1058.55 L1215.35,1057.04 L1215.41,1055.53 L1215.47,1054.02 L1215.53,1052.51 L1215.58,1051.00 L1215.63,1049.49 L1215.67,1047.97 L1215.70,1046.46 L1215.73,1044.95 L1215.76,1043.44 L1215.78,1041.93 L1215.79,1040.42 L1215.80,1038.91 L1215.80,1037.40 Z" fill="url(#g17)" stroke="#26313b" stroke-width="2.6" stroke-linejoin="round"/>
<line x1="1182.5" y1="1146.8" x2="1251.8" y2="1146.8" stroke="#111" stroke-width="4"/>
<path d="M1337.60,1074.20 L1337.64,1075.53 L1337.68,1076.86 L1337.71,1078.19 L1337.75,1079.52 L1337.79,1080.85 L1337.83,1082.18 L1337.87,1083.52 L1337.91,1084.85 L1337.94,1086.18 L1337.98,1087.51 L1338.02,1088.84 L1338.06,1090.17 L1338.10,1091.50 L1338.14,1092.83 L1338.18,1094.16 L1338.22,1095.49 L1338.26,1096.82 L1338.30,1098.15 L1338.33,1099.49 L1338.36,1100.82 L1338.39,1102.15 L1338.42,1103.48 L1338.45,1104.81 L1338.48,1106.14 L1338.51,1107.47 L1338.54,1108.80 L1338.58,1110.13 L1338.63,1111.46 L1338.68,1112.79 L1338.75,1114.12 L1338.84,1115.46 L1339.04,1116.79 L1339.36,1118.12 L1339.78,1119.45 L1340.27,1120.78 L1340.81,1122.11 L1341.36,1123.44 L1342.02,1124.77 L1342.83,1126.10 L1343.77,1127.43 L1344.80,1128.76 L1345.89,1130.09 L1347.03,1131.43 L1348.17,1132.76 L1349.28,1134.09 L1350.35,1135.42 L1351.33,1136.75 L1352.28,1138.08 L1353.25,1139.41 L1354.23,1140.74 L1355.20,1142.07 L1356.16,1143.40 L1357.10,1144.73 L1358.01,1146.06 L1358.88,1147.39 L1359.70,1148.73 L1360.46,1150.06 L1361.15,1151.39 L1361.79,1152.72 L1362.42,1154.05 L1363.04,1155.38 L1363.63,1156.71 L1364.20,1158.04 L1364.73,1159.37 L1365.20,1160.70 L1365.62,1162.03 L1365.97,1163.36 L1366.25,1164.70 L1366.47,1166.03 L1366.67,1167.36 L1366.86,1168.69 L1367.02,1170.02 L1367.13,1171.35 L1367.19,1172.68 L1367.19,1174.01 L1367.09,1175.34 L1366.92,1176.67 L1366.67,1178.00 L1366.37,1179.33 L1366.02,1180.67 L1365.63,1182.00 L1365.23,1183.33 L1364.81,1184.66 L1364.35,1185.99 L1363.75,1187.32 L1363.04,1188.65 L1362.23,1189.98 L1361.35,1191.31 L1360.41,1192.64 L1359.44,1193.97 L1358.45,1195.30 L1357.48,1196.64 L1356.53,1197.97 L1355.60,1199.30 L1354.62,1200.63 L1353.60,1201.96 L1352.55,1203.29 L1351.49,1204.62 L1350.44,1205.95 L1349.40,1207.28 L1348.40,1208.61 L1347.45,1209.94 L1346.57,1211.27 L1345.73,1212.61 L1344.86,1213.94 L1343.97,1215.27 L1343.08,1216.60 L1342.23,1217.93 L1341.44,1219.26 L1340.73,1220.59 L1340.13,1221.92 L1339.67,1223.25 L1339.36,1224.58 L1339.19,1225.91 L1339.05,1227.24 L1338.92,1228.57 L1338.81,1229.91 L1338.70,1231.24 L1338.61,1232.57 L1338.53,1233.90 L1338.46,1235.23 L1338.40,1236.56 L1338.36,1237.89 L1338.32,1239.22 L1338.29,1240.55 L1338.26,1241.88 L1338.24,1243.21 L1338.22,1244.54 L1338.20,1245.88 L1338.19,1247.21 L1338.17,1248.54 L1338.16,1249.87 L1338.15,1251.20 L1338.14,1252.53 L1338.13,1253.86 L1338.12,1255.19 L1338.11,1256.52 L1338.10,1257.85 L1338.08,1259.18 L1338.07,1260.51 L1338.05,1261.85 L1338.03,1263.18 L1338.01,1264.51 L1337.98,1265.84 L1337.95,1267.17 L1337.92,1268.50 L1337.88,1269.83 L1337.84,1271.16 L1337.79,1272.49 L1337.74,1273.82 L1337.69,1275.15 L1337.64,1276.48 L1337.58,1277.82 L1337.52,1279.15 L1337.46,1280.48 L1337.40,1281.81 L1337.33,1283.14 L1337.27,1284.47 L1337.20,1285.80 L1335.40,1285.80 L1335.33,1284.47 L1335.27,1283.14 L1335.20,1281.81 L1335.14,1280.48 L1335.08,1279.15 L1335.02,1277.82 L1334.96,1276.48 L1334.91,1275.15 L1334.86,1273.82 L1334.81,1272.49 L1334.76,1271.16 L1334.72,1269.83 L1334.68,1268.50 L1334.65,1267.17 L1334.62,1265.84 L1334.59,1264.51 L1334.57,1263.18 L1334.55,1261.85 L1334.53,1260.51 L1334.52,1259.18 L1334.50,1257.85 L1334.49,1256.52 L1334.48,1255.19 L1334.47,1253.86 L1334.46,1252.53 L1334.45,1251.20 L1334.44,1249.87 L1334.43,1248.54 L1334.41,1247.21 L1334.40,1245.88 L1334.38,1244.54 L1334.36,1243.21 L1334.34,1241.88 L1334.31,1240.55 L1334.28,1239.22 L1334.24,1237.89 L1334.20,1236.56 L1334.14,1235.23 L1334.07,1233.90 L1333.99,1232.57 L1333.90,1231.24 L1333.79,1229.91 L1333.68,1228.57 L1333.55,1227.24 L1333.41,1225.91 L1333.24,1224.58 L1332.93,1223.25 L1332.47,1221.92 L1331.87,1220.59 L1331.16,1219.26 L1330.37,1217.93 L1329.52,1216.60 L1328.63,1215.27 L1327.74,1213.94 L1326.87,1212.61 L1326.03,1211.27 L1325.15,1209.94 L1324.20,1208.61 L1323.20,1207.28 L1322.16,1205.95 L1321.11,1204.62 L1320.05,1203.29 L1319.00,1201.96 L1317.98,1200.63 L1317.00,1199.30 L1316.07,1197.97 L1315.12,1196.64 L1314.15,1195.30 L1313.16,1193.97 L1312.19,1192.64 L1311.25,1191.31 L1310.37,1189.98 L1309.56,1188.65 L1308.85,1187.32 L1308.25,1185.99 L1307.79,1184.66 L1307.37,1183.33 L1306.97,1182.00 L1306.58,1180.67 L1306.23,1179.33 L1305.93,1178.00 L1305.68,1176.67 L1305.51,1175.34 L1305.41,1174.01 L1305.41,1172.68 L1305.47,1171.35 L1305.58,1170.02 L1305.74,1168.69 L1305.93,1167.36 L1306.13,1166.03 L1306.35,1164.70 L1306.63,1163.36 L1306.98,1162.03 L1307.40,1160.70 L1307.87,1159.37 L1308.40,1158.04 L1308.97,1156.71 L1309.56,1155.38 L1310.18,1154.05 L1310.81,1152.72 L1311.45,1151.39 L1312.14,1150.06 L1312.90,1148.73 L1313.72,1147.39 L1314.59,1146.06 L1315.50,1144.73 L1316.44,1143.40 L1317.40,1142.07 L1318.37,1140.74 L1319.35,1139.41 L1320.32,1138.08 L1321.27,1136.75 L1322.25,1135.42 L1323.32,1134.09 L1324.43,1132.76 L1325.57,1131.43 L1326.71,1130.09 L1327.80,1128.76 L1328.83,1127.43 L1329.77,1126.10 L1330.58,1124.77 L1331.24,1123.44 L1331.79,1122.11 L1332.33,1120.78 L1332.82,1119.45 L1333.24,1118.12 L1333.56,1116.79 L1333.76,1115.46 L1333.85,1114.12 L1333.92,1112.79 L1333.97,1111.46 L1334.02,1110.13 L1334.06,1108.80 L1334.09,1107.47 L1334.12,1106.14 L1334.15,1104.81 L1334.18,1103.48 L1334.21,1102.15 L1334.24,1100.82 L1334.27,1099.49 L1334.30,1098.15 L1334.34,1096.82 L1334.38,1095.49 L1334.42,1094.16 L1334.46,1092.83 L1334.50,1091.50 L1334.54,1090.17 L1334.58,1088.84 L1334.62,1087.51 L1334.66,1086.18 L1334.69,1084.85 L1334.73,1083.52 L1334.77,1082.18 L1334.81,1080.85 L1334.85,1079.52 L1334.89,1078.19 L1334.92,1076.86 L1334.96,1075.53 L1335.00,1074.20 Z" fill="url(#g18)" stroke="#26313b" stroke-width="2.6" stroke-linejoin="round"/>
<line x1="1301.8" y1="1171.7" x2="1371.0" y2="1171.7" stroke="#111" stroke-width="4"/>
<path d="M0,-11.6 L128.5,-11.6 L128.5,-24.2 L166,0 L128.5,24.2 L128.5,11.6 L0,11.6 Z" transform="translate(354.3,790.1) rotate(-13.40)" fill="url(#agrad)" stroke="#111" stroke-width="3" stroke-linejoin="miter"/>
<path d="M0,-11.6 L128.5,-11.6 L128.5,-24.2 L166,0 L128.5,24.2 L128.5,11.6 L0,11.6 Z" transform="translate(745.9,789.9) rotate(-13.30)" fill="url(#agrad)" stroke="#111" stroke-width="3" stroke-linejoin="miter"/>
<path d="M0,-11.6 L128.5,-11.6 L128.5,-24.2 L166,0 L128.5,24.2 L128.5,11.6 L0,11.6 Z" transform="translate(1133.7,767.4) rotate(0.00)" fill="#d2d0d2" stroke="#111" stroke-width="3" stroke-linejoin="miter"/>
<path d="M0,-11.6 L128.5,-11.6 L128.5,-24.2 L166,0 L128.5,24.2 L128.5,11.6 L0,11.6 Z" transform="translate(349.7,1068.0) rotate(0.00)" fill="#d2d0d2" stroke="#111" stroke-width="3" stroke-linejoin="miter"/>
<path d="M0,-11.6 L128.5,-11.6 L128.5,-24.2 L166,0 L128.5,24.2 L128.5,11.6 L0,11.6 Z" transform="translate(746.1,1089.6) rotate(-13.30)" fill="url(#agrad)" stroke="#111" stroke-width="3" stroke-linejoin="miter"/>
<path d="M0,-11.6 L128.5,-11.6 L128.5,-24.2 L166,0 L128.5,24.2 L128.5,11.6 L0,11.6 Z" transform="translate(1137.1,1045.5) rotate(13.40)" fill="url(#agrad)" stroke="#111" stroke-width="3" stroke-linejoin="miter"/>
<rect x="1711.50" y="341.30" width="36.8" height="171.60" fill="#ff7a00"/>
<rect x="1752.89" y="494.20" width="36.8" height="18.70" fill="#ff7a00"/>
<rect x="1794.28" y="503.00" width="36.8" height="9.90" fill="#ff7a00"/>
<rect x="1835.67" y="492.40" width="36.8" height="20.50" fill="#ff7a00"/>
<rect x="1877.06" y="500.20" width="36.8" height="12.70" fill="#ff7a00"/>
<rect x="1918.45" y="503.00" width="36.8" height="9.90" fill="#ff7a00"/>
<rect x="1959.84" y="496.60" width="36.8" height="16.30" fill="#ff7a00"/>
<rect x="2001.23" y="489.10" width="36.8" height="23.80" fill="#ff7a00"/>
<rect x="2042.62" y="485.10" width="36.8" height="27.80" fill="#ff7a00"/>
<rect x="2084.01" y="489.20" width="36.8" height="23.70" fill="#ff7a00"/>
<rect x="2125.40" y="487.40" width="36.8" height="25.50" fill="#ff7a00"/>
<rect x="2166.79" y="494.80" width="36.8" height="18.10" fill="#ff7a00"/>
<rect x="2208.18" y="492.20" width="36.8" height="20.70" fill="#ff7a00"/>
<rect x="2249.57" y="489.20" width="36.8" height="23.70" fill="#ff7a00"/>
<rect x="2290.96" y="491.80" width="36.8" height="21.10" fill="#ff7a00"/>
<rect x="2332.35" y="476.30" width="36.8" height="36.60" fill="#ff7a00"/>
<rect x="2373.74" y="295.20" width="36.8" height="217.70" fill="#ff7a00"/>
<line x1="1705.2" y1="158.3" x2="1705.2" y2="514.5" stroke="#111" stroke-width="3.2"/>
<line x1="1694.8" y1="512.9" x2="1705.2" y2="512.9" stroke="#111" stroke-width="3.2"/>
<line x1="1694.8" y1="446.2" x2="1705.2" y2="446.2" stroke="#111" stroke-width="3.2"/>
<line x1="1694.8" y1="379.6" x2="1705.2" y2="379.6" stroke="#111" stroke-width="3.2"/>
<line x1="1694.8" y1="312.9" x2="1705.2" y2="312.9" stroke="#111" stroke-width="3.2"/>
<line x1="1694.8" y1="246.3" x2="1705.2" y2="246.3" stroke="#111" stroke-width="3.2"/>
<line x1="1694.8" y1="179.6" x2="1705.2" y2="179.6" stroke="#111" stroke-width="3.2"/>
<line x1="1694.8" y1="512.9" x2="2418.2" y2="512.9" stroke="#111" stroke-width="3.4"/>
<line x1="1729.9" y1="512.9" x2="1729.9" y2="523.4" stroke="#111" stroke-width="3.2"/>
<line x1="1771.3" y1="512.9" x2="1771.3" y2="523.4" stroke="#111" stroke-width="3.2"/>
<line x1="1812.7" y1="512.9" x2="1812.7" y2="523.4" stroke="#111" stroke-width="3.2"/>
<line x1="1854.1" y1="512.9" x2="1854.1" y2="523.4" stroke="#111" stroke-width="3.2"/>
<line x1="1895.5" y1="512.9" x2="1895.5" y2="523.4" stroke="#111" stroke-width="3.2"/>
<line x1="1936.9" y1="512.9" x2="1936.9" y2="523.4" stroke="#111" stroke-width="3.2"/>
<line x1="1978.2" y1="512.9" x2="1978.2" y2="523.4" stroke="#111" stroke-width="3.2"/>
<line x1="2019.6" y1="512.9" x2="2019.6" y2="523.4" stroke="#111" stroke-width="3.2"/>
<line x1="2061.0" y1="512.9" x2="2061.0" y2="523.4" stroke="#111" stroke-width="3.2"/>
<line x1="2102.4" y1="512.9" x2="2102.4" y2="523.4" stroke="#111" stroke-width="3.2"/>
<line x1="2143.8" y1="512.9" x2="2143.8" y2="523.4" stroke="#111" stroke-width="3.2"/>
<line x1="2185.2" y1="512.9" x2="2185.2" y2="523.4" stroke="#111" stroke-width="3.2"/>
<line x1="2226.6" y1="512.9" x2="2226.6" y2="523.4" stroke="#111" stroke-width="3.2"/>
<line x1="2268.0" y1="512.9" x2="2268.0" y2="523.4" stroke="#111" stroke-width="3.2"/>
<line x1="2309.4" y1="512.9" x2="2309.4" y2="523.4" stroke="#111" stroke-width="3.2"/>
<line x1="2350.8" y1="512.9" x2="2350.8" y2="523.4" stroke="#111" stroke-width="3.2"/>
<line x1="2392.1" y1="512.9" x2="2392.1" y2="523.4" stroke="#111" stroke-width="3.2"/>
<rect x="2143.3" y="543.4" width="6.2" height="6.2" fill="#111"/>
<rect x="2184.7" y="543.4" width="6.2" height="6.2" fill="#111"/>
<rect x="2226.1" y="543.4" width="6.2" height="6.2" fill="#111"/>
<rect x="2267.5" y="543.4" width="6.2" height="6.2" fill="#111"/>
<rect x="2308.9" y="543.4" width="6.2" height="6.2" fill="#111"/>
<rect x="2350.2" y="543.4" width="6.2" height="6.2" fill="#111"/>
<line x1="2416.4" y1="298.4" x2="2416.4" y2="514.5" stroke="#111" stroke-width="3.2"/>
<line x1="2416.4" y1="512.9" x2="2426.5" y2="512.9" stroke="#111" stroke-width="3.2"/>
<line x1="2416.4" y1="477.4" x2="2426.5" y2="477.4" stroke="#111" stroke-width="3.2"/>
<line x1="2416.4" y1="441.9" x2="2426.5" y2="441.9" stroke="#111" stroke-width="3.2"/>
<line x1="2416.4" y1="406.4" x2="2426.5" y2="406.4" stroke="#111" stroke-width="3.2"/>
<line x1="2416.4" y1="371.0" x2="2426.5" y2="371.0" stroke="#111" stroke-width="3.2"/>
<line x1="2416.4" y1="335.5" x2="2426.5" y2="335.5" stroke="#111" stroke-width="3.2"/>
<line x1="2416.4" y1="300.0" x2="2426.5" y2="300.0" stroke="#111" stroke-width="3.2"/>
<path d="M0,0 L54.7,-26.2 L54.7,-8.4 L102.5,-8.4 L102.5,8.4 L54.7,8.4 L54.7,26.2 Z" transform="translate(1814.5,229.1) rotate(-47.2)" fill="#000"/>
<rect x="1711.50" y="1242.40" width="36.8" height="7.10" fill="#6cb0ee"/>
<rect x="1752.89" y="1242.00" width="36.8" height="7.50" fill="#6cb0ee"/>
<rect x="1794.28" y="1223.50" width="36.8" height="26.00" fill="#6cb0ee"/>
<rect x="1835.67" y="1233.00" width="36.8" height="16.50" fill="#6cb0ee"/>
<rect x="1877.06" y="1234.00" width="36.8" height="15.50" fill="#6cb0ee"/>
<rect x="1918.45" y="1230.50" width="36.8" height="19.00" fill="#6cb0ee"/>
<rect x="1959.84" y="1231.90" width="36.8" height="17.60" fill="#6cb0ee"/>
<rect x="2001.23" y="1231.20" width="36.8" height="18.30" fill="#6cb0ee"/>
<rect x="2042.62" y="1230.40" width="36.8" height="19.10" fill="#6cb0ee"/>
<rect x="2084.01" y="1226.80" width="36.8" height="22.70" fill="#6cb0ee"/>
<rect x="2125.40" y="1228.30" width="36.8" height="21.20" fill="#6cb0ee"/>
<rect x="2166.79" y="1225.70" width="36.8" height="23.80" fill="#6cb0ee"/>
<rect x="2208.18" y="1223.70" width="36.8" height="25.80" fill="#6cb0ee"/>
<rect x="2249.57" y="1207.50" width="36.8" height="42.00" fill="#6cb0ee"/>
<rect x="2290.96" y="1215.90" width="36.8" height="33.60" fill="#6cb0ee"/>
<rect x="2332.35" y="1197.30" width="36.8" height="52.20" fill="#6cb0ee"/>
<rect x="2373.74" y="912.40" width="36.8" height="337.10" fill="#6cb0ee"/>
<line x1="1705.2" y1="894.9" x2="1705.2" y2="1251.1" stroke="#111" stroke-width="3.2"/>
<line x1="1694.8" y1="1249.5" x2="1705.2" y2="1249.5" stroke="#111" stroke-width="3.2"/>
<line x1="1694.8" y1="1182.8" x2="1705.2" y2="1182.8" stroke="#111" stroke-width="3.2"/>
<line x1="1694.8" y1="1116.2" x2="1705.2" y2="1116.2" stroke="#111" stroke-width="3.2"/>
<line x1="1694.8" y1="1049.5" x2="1705.2" y2="1049.5" stroke="#111" stroke-width="3.2"/>
<line x1="1694.8" y1="982.9" x2="1705.2" y2="982.9" stroke="#111" stroke-width="3.2"/>
<line x1="1694.8" y1="916.2" x2="1705.2" y2="916.2" stroke="#111" stroke-width="3.2"/>
<line x1="1694.8" y1="1249.5" x2="2418.2" y2="1249.5" stroke="#111" stroke-width="3.4"/>
<line x1="1729.9" y1="1249.5" x2="1729.9" y2="1260.0" stroke="#111" stroke-width="3.2"/>
<line x1="1771.3" y1="1249.5" x2="1771.3" y2="1260.0" stroke="#111" stroke-width="3.2"/>
<line x1="1812.7" y1="1249.5" x2="1812.7" y2="1260.0" stroke="#111" stroke-width="3.2"/>
<line x1="1854.1" y1="1249.5" x2="1854.1" y2="1260.0" stroke="#111" stroke-width="3.2"/>
<line x1="1895.5" y1="1249.5" x2="1895.5" y2="1260.0" stroke="#111" stroke-width="3.2"/>
<line x1="1936.9" y1="1249.5" x2="1936.9" y2="1260.0" stroke="#111" stroke-width="3.2"/>
<line x1="1978.2" y1="1249.5" x2="1978.2" y2="1260.0" stroke="#111" stroke-width="3.2"/>
<line x1="2019.6" y1="1249.5" x2="2019.6" y2="1260.0" stroke="#111" stroke-width="3.2"/>
<line x1="2061.0" y1="1249.5" x2="2061.0" y2="1260.0" stroke="#111" stroke-width="3.2"/>
<line x1="2102.4" y1="1249.5" x2="2102.4" y2="1260.0" stroke="#111" stroke-width="3.2"/>
<line x1="2143.8" y1="1249.5" x2="2143.8" y2="1260.0" stroke="#111" stroke-width="3.2"/>
<line x1="2185.2" y1="1249.5" x2="2185.2" y2="1260.0" stroke="#111" stroke-width="3.2"/>
<line x1="2226.6" y1="1249.5" x2="2226.6" y2="1260.0" stroke="#111" stroke-width="3.2"/>
<line x1="2268.0" y1="1249.5" x2="2268.0" y2="1260.0" stroke="#111" stroke-width="3.2"/>
<line x1="2309.4" y1="1249.5" x2="2309.4" y2="1260.0" stroke="#111" stroke-width="3.2"/>
<line x1="2350.8" y1="1249.5" x2="2350.8" y2="1260.0" stroke="#111" stroke-width="3.2"/>
<line x1="2392.1" y1="1249.5" x2="2392.1" y2="1260.0" stroke="#111" stroke-width="3.2"/>
<rect x="2143.3" y="1280.0" width="6.2" height="6.2" fill="#111"/>
<rect x="2184.7" y="1280.0" width="6.2" height="6.2" fill="#111"/>
<rect x="2226.1" y="1280.0" width="6.2" height="6.2" fill="#111"/>
<rect x="2267.5" y="1280.0" width="6.2" height="6.2" fill="#111"/>
<rect x="2308.9" y="1280.0" width="6.2" height="6.2" fill="#111"/>
<rect x="2350.2" y="1280.0" width="6.2" height="6.2" fill="#111"/>
<line x1="2416.4" y1="898.1" x2="2416.4" y2="1251.1" stroke="#111" stroke-width="3.2"/>
<line x1="2416.4" y1="1249.5" x2="2426.5" y2="1249.5" stroke="#111" stroke-width="3.2"/>
<line x1="2416.4" y1="1191.2" x2="2426.5" y2="1191.2" stroke="#111" stroke-width="3.2"/>
<line x1="2416.4" y1="1132.9" x2="2426.5" y2="1132.9" stroke="#111" stroke-width="3.2"/>
<line x1="2416.4" y1="1074.6" x2="2426.5" y2="1074.6" stroke="#111" stroke-width="3.2"/>
<line x1="2416.4" y1="1016.3" x2="2426.5" y2="1016.3" stroke="#111" stroke-width="3.2"/>
<line x1="2416.4" y1="958.0" x2="2426.5" y2="958.0" stroke="#111" stroke-width="3.2"/>
<line x1="2416.4" y1="899.7" x2="2426.5" y2="899.7" stroke="#111" stroke-width="3.2"/>
<path d="M0,0 L54.7,-26.2 L54.7,-8.4 L102.5,-8.4 L102.5,8.4 L54.7,8.4 L54.7,26.2 Z" transform="translate(1789.3,1148.0) rotate(-47.2)" fill="#000"/>
<text x="50.90" y="87.40" font-family="'Liberation Sans', sans-serif" font-size="68" font-weight="700" fill="#000" textLength="50.11" lengthAdjust="spacingAndGlyphs">A</text>
<text x="1544.00" y="86.10" font-family="'Liberation Sans', sans-serif" font-size="67" font-weight="700" fill="#000" textLength="46.49" lengthAdjust="spacingAndGlyphs">B</text>
<text x="449.50" y="146.70" font-family="'Liberation Sans', sans-serif" font-size="65.0" font-weight="400" fill="#fb7f18" textLength="173.02" lengthAdjust="spacingAndGlyphs" stroke="#fff" stroke-width="0.9">tnQTL</text>
<text x="868.00" y="146.50" font-family="'Liberation Sans', sans-serif" font-size="65.0" font-weight="400" fill="#1c60d8" textLength="148.58" lengthAdjust="spacingAndGlyphs" stroke="#fff" stroke-width="0.9">eQTL</text>
<text x="207.60" y="697.00" font-family="'Liberation Sans', sans-serif" font-size="65.0" font-weight="400" fill="#fb7f18" textLength="172.13" lengthAdjust="spacingAndGlyphs" stroke="#fff" stroke-width="0.9">tnQTL</text>
<text x="378.70" y="697.00" font-family="'Liberation Sans', 'Noto Sans CJK JP', sans-serif" font-size="55.5" font-weight="400" fill="#fb7f18" textLength="282.82" lengthAdjust="spacing">の作用のみ</text>
<text x="685.00" y="697.00" font-family="'Liberation Sans', 'Noto Sans CJK JP', sans-serif" font-size="55.5" font-weight="400" fill="#8d47b6" textLength="285.52" lengthAdjust="spacing">両方の作用</text>
<text x="1003.20" y="697.00" font-family="'Liberation Sans', sans-serif" font-size="65.0" font-weight="400" fill="#1c60d8" textLength="147.88" lengthAdjust="spacingAndGlyphs" stroke="#fff" stroke-width="0.9">eQTL</text>
<text x="1149.60" y="697.00" font-family="'Liberation Sans', 'Noto Sans CJK JP', sans-serif" font-size="55.5" font-weight="400" fill="#1c60d8" textLength="282.82" lengthAdjust="spacing">の作用のみ</text>
<text x="111.20" y="858.20" font-family="'Liberation Sans', 'Noto Sans CJK JP', sans-serif" font-size="55.5" font-weight="350" fill="#1e1e1e" textLength="112.42" lengthAdjust="spacing">転写</text>
<text x="83.40" y="918.80" font-family="'Liberation Sans', 'Noto Sans CJK JP', sans-serif" font-size="55.5" font-weight="350" fill="#1e1e1e" textLength="169.24" lengthAdjust="spacing">ノイズ</text>
<text x="84.00" y="1184.80" font-family="'Liberation Sans', 'Noto Sans CJK JP', sans-serif" font-size="55.5" font-weight="350" fill="#1e1e1e" textLength="168.92" lengthAdjust="spacing">発現量</text>
<text x="269.50" y="1356.00" font-family="'Liberation Sans', sans-serif" font-size="63.5" font-weight="400" fill="#1e1e1e" textLength="86.32" lengthAdjust="spacingAndGlyphs" stroke="#fff" stroke-width="0.9">CC</text>
<text x="391.00" y="1356.00" font-family="'Liberation Sans', sans-serif" font-size="63.5" font-weight="400" fill="#1e1e1e" textLength="81.86" lengthAdjust="spacingAndGlyphs" stroke="#fff" stroke-width="0.9">CT</text>
<text x="515.70" y="1356.00" font-family="'Liberation Sans', sans-serif" font-size="63.5" font-weight="400" fill="#1e1e1e" textLength="74.58" lengthAdjust="spacingAndGlyphs" stroke="#fff" stroke-width="0.9">TT</text>
<text x="661.80" y="1356.00" font-family="'Liberation Sans', sans-serif" font-size="63.5" font-weight="400" fill="#1e1e1e" textLength="89.40" lengthAdjust="spacingAndGlyphs" stroke="#fff" stroke-width="0.9">GG</text>
<text x="780.00" y="1356.00" font-family="'Liberation Sans', sans-serif" font-size="63.5" font-weight="400" fill="#1e1e1e" textLength="84.15" lengthAdjust="spacingAndGlyphs" stroke="#fff" stroke-width="0.9">GA</text>
<text x="903.50" y="1356.00" font-family="'Liberation Sans', sans-serif" font-size="63.5" font-weight="400" fill="#1e1e1e" textLength="82.92" lengthAdjust="spacingAndGlyphs" stroke="#fff" stroke-width="0.9">AA</text>
<text x="1057.40" y="1356.00" font-family="'Liberation Sans', sans-serif" font-size="63.5" font-weight="400" fill="#1e1e1e" textLength="81.62" lengthAdjust="spacingAndGlyphs" stroke="#fff" stroke-width="0.9">AA</text>
<text x="1180.80" y="1356.00" font-family="'Liberation Sans', sans-serif" font-size="63.5" font-weight="400" fill="#1e1e1e" textLength="71.84" lengthAdjust="spacingAndGlyphs" stroke="#fff" stroke-width="0.9">AT</text>
<text x="1299.00" y="1356.00" font-family="'Liberation Sans', sans-serif" font-size="63.5" font-weight="400" fill="#1e1e1e" textLength="73.78" lengthAdjust="spacingAndGlyphs" stroke="#fff" stroke-width="0.9">TT</text>
<text x="1666.00" y="521.60" font-family="'Liberation Sans', sans-serif" font-size="41" font-weight="400" fill="#1e1e1e">0</text>
<text x="1643.00" y="454.94" font-family="'Liberation Sans', sans-serif" font-size="41" font-weight="400" fill="#1e1e1e">10</text>
<text x="1643.00" y="388.28" font-family="'Liberation Sans', sans-serif" font-size="41" font-weight="400" fill="#1e1e1e">20</text>
<text x="1643.00" y="321.62" font-family="'Liberation Sans', sans-serif" font-size="41" font-weight="400" fill="#1e1e1e">30</text>
<text x="1643.00" y="254.96" font-family="'Liberation Sans', sans-serif" font-size="41" font-weight="400" fill="#1e1e1e">40</text>
<text x="1643.00" y="188.30" font-family="'Liberation Sans', sans-serif" font-size="41" font-weight="400" fill="#1e1e1e">50</text>
<text x="1717.90" y="558.70" font-family="'Liberation Sans', sans-serif" font-size="41" font-weight="400" fill="#1e1e1e">1</text>
<text x="1759.79" y="558.70" font-family="'Liberation Sans', sans-serif" font-size="41" font-weight="400" fill="#1e1e1e">2</text>
<text x="1801.18" y="558.70" font-family="'Liberation Sans', sans-serif" font-size="41" font-weight="400" fill="#1e1e1e">3</text>
<text x="1842.57" y="558.70" font-family="'Liberation Sans', sans-serif" font-size="41" font-weight="400" fill="#1e1e1e">4</text>
<text x="1883.96" y="558.70" font-family="'Liberation Sans', sans-serif" font-size="41" font-weight="400" fill="#1e1e1e">5</text>
<text x="1925.35" y="558.70" font-family="'Liberation Sans', sans-serif" font-size="41" font-weight="400" fill="#1e1e1e">6</text>
<text x="1966.74" y="558.70" font-family="'Liberation Sans', sans-serif" font-size="41" font-weight="400" fill="#1e1e1e">7</text>
<text x="2008.13" y="558.70" font-family="'Liberation Sans', sans-serif" font-size="41" font-weight="400" fill="#1e1e1e">8</text>
<text x="2049.52" y="558.70" font-family="'Liberation Sans', sans-serif" font-size="41" font-weight="400" fill="#1e1e1e">9</text>
<text x="2081.00" y="558.70" font-family="'Liberation Sans', sans-serif" font-size="41" font-weight="400" fill="#1e1e1e">10</text>
<text x="2368.00" y="558.70" font-family="'Liberation Sans', sans-serif" font-size="41" font-weight="400" fill="#1e1e1e">17</text>
<text x="2432.30" y="523.90" font-family="'Liberation Sans', sans-serif" font-size="41.5" font-weight="400" fill="#1e1e1e">0</text>
<text x="2432.30" y="452.93" font-family="'Liberation Sans', sans-serif" font-size="41.5" font-weight="400" fill="#1e1e1e">2,000</text>
<text x="2433.30" y="381.97" font-family="'Liberation Sans', sans-serif" font-size="41.5" font-weight="400" fill="#1e1e1e">4,000</text>
<text x="2432.30" y="311.00" font-family="'Liberation Sans', sans-serif" font-size="41.5" font-weight="400" fill="#1e1e1e">6,000</text>
<text x="1572.50" y="360.20" font-family="'Liberation Sans', sans-serif" font-size="64" font-weight="400" fill="#1e1e1e" textLength="50.01" lengthAdjust="spacingAndGlyphs">%</text>
<text x="1804.00" y="619.50" font-family="'Liberation Sans', 'Noto Sans CJK JP', sans-serif" font-size="55.5" font-weight="350" fill="#1e1e1e" textLength="511.52" lengthAdjust="spacing">有意な作用を認めた</text>
<text x="1776.60" y="682.50" font-family="'Liberation Sans', 'Noto Sans CJK JP', sans-serif" font-size="55.5" font-weight="350" fill="#1e1e1e" textLength="566.42" lengthAdjust="spacing">細胞種や培養条件の数</text>
<text x="2555.50" y="427.40" font-family="'Liberation Sans', 'Noto Sans CJK JP', sans-serif" font-size="55.5" font-weight="350" fill="#1e1e1e" textLength="57.32" lengthAdjust="spacing">数</text>
<text x="1635.30" y="120.30" font-family="'Liberation Sans', sans-serif" font-size="65.0" font-weight="400" fill="#fb7f18" textLength="173.42" lengthAdjust="spacingAndGlyphs" stroke="#fff" stroke-width="0.9">tnQTL</text>
<text x="1806.90" y="120.30" font-family="'Liberation Sans', 'Noto Sans CJK JP', sans-serif" font-size="55.5" font-weight="400" fill="#fb7f18" textLength="682.12" lengthAdjust="spacing">の作用のみを持つ遺伝子座</text>
<text x="1730.90" y="330.40" font-family="'Liberation Sans', sans-serif" font-size="40.5" font-weight="400" fill="#1e1e1e" transform="rotate(-45 1730.90 330.40)">25.4%</text>
<text x="2390.50" y="283.70" font-family="'Liberation Sans', sans-serif" font-size="40.5" font-weight="400" fill="#1e1e1e" transform="rotate(-45 2390.50 283.70)">32.4%</text>
<text x="1666.00" y="1258.20" font-family="'Liberation Sans', sans-serif" font-size="41" font-weight="400" fill="#1e1e1e">0</text>
<text x="1643.00" y="1191.54" font-family="'Liberation Sans', sans-serif" font-size="41" font-weight="400" fill="#1e1e1e">10</text>
<text x="1643.00" y="1124.88" font-family="'Liberation Sans', sans-serif" font-size="41" font-weight="400" fill="#1e1e1e">20</text>
<text x="1643.00" y="1058.22" font-family="'Liberation Sans', sans-serif" font-size="41" font-weight="400" fill="#1e1e1e">30</text>
<text x="1643.00" y="991.56" font-family="'Liberation Sans', sans-serif" font-size="41" font-weight="400" fill="#1e1e1e">40</text>
<text x="1643.00" y="924.90" font-family="'Liberation Sans', sans-serif" font-size="41" font-weight="400" fill="#1e1e1e">50</text>
<text x="1717.90" y="1295.30" font-family="'Liberation Sans', sans-serif" font-size="41" font-weight="400" fill="#1e1e1e">1</text>
<text x="1759.79" y="1295.30" font-family="'Liberation Sans', sans-serif" font-size="41" font-weight="400" fill="#1e1e1e">2</text>
<text x="1801.18" y="1295.30" font-family="'Liberation Sans', sans-serif" font-size="41" font-weight="400" fill="#1e1e1e">3</text>
<text x="1842.57" y="1295.30" font-family="'Liberation Sans', sans-serif" font-size="41" font-weight="400" fill="#1e1e1e">4</text>
<text x="1883.96" y="1295.30" font-family="'Liberation Sans', sans-serif" font-size="41" font-weight="400" fill="#1e1e1e">5</text>
<text x="1925.35" y="1295.30" font-family="'Liberation Sans', sans-serif" font-size="41" font-weight="400" fill="#1e1e1e">6</text>
<text x="1966.74" y="1295.30" font-family="'Liberation Sans', sans-serif" font-size="41" font-weight="400" fill="#1e1e1e">7</text>
<text x="2008.13" y="1295.30" font-family="'Liberation Sans', sans-serif" font-size="41" font-weight="400" fill="#1e1e1e">8</text>
<text x="2049.52" y="1295.30" font-family="'Liberation Sans', sans-serif" font-size="41" font-weight="400" fill="#1e1e1e">9</text>
<text x="2081.00" y="1295.30" font-family="'Liberation Sans', sans-serif" font-size="41" font-weight="400" fill="#1e1e1e">10</text>
<text x="2368.00" y="1295.30" font-family="'Liberation Sans', sans-serif" font-size="41" font-weight="400" fill="#1e1e1e">17</text>
<text x="2432.30" y="1260.50" font-family="'Liberation Sans', sans-serif" font-size="41.5" font-weight="400" fill="#1e1e1e">0</text>
<text x="2432.30" y="1143.90" font-family="'Liberation Sans', sans-serif" font-size="41.5" font-weight="400" fill="#1e1e1e">200,000</text>
<text x="2433.30" y="1027.30" font-family="'Liberation Sans', sans-serif" font-size="41.5" font-weight="400" fill="#1e1e1e">400,000</text>
<text x="2432.30" y="910.70" font-family="'Liberation Sans', sans-serif" font-size="41.5" font-weight="400" fill="#1e1e1e">600,000</text>
<text x="1572.50" y="1096.60" font-family="'Liberation Sans', sans-serif" font-size="64" font-weight="400" fill="#1e1e1e" textLength="50.01" lengthAdjust="spacingAndGlyphs">%</text>
<text x="1804.00" y="1356.10" font-family="'Liberation Sans', 'Noto Sans CJK JP', sans-serif" font-size="55.5" font-weight="350" fill="#1e1e1e" textLength="511.52" lengthAdjust="spacing">有意な作用を認めた</text>
<text x="1776.60" y="1419.10" font-family="'Liberation Sans', 'Noto Sans CJK JP', sans-serif" font-size="55.5" font-weight="350" fill="#1e1e1e" textLength="566.42" lengthAdjust="spacing">細胞種や培養条件の数</text>
<text x="2600.90" y="1094.40" font-family="'Liberation Sans', 'Noto Sans CJK JP', sans-serif" font-size="55.5" font-weight="350" fill="#1e1e1e" textLength="57.02" lengthAdjust="spacing">数</text>
<text x="1646.60" y="770.60" font-family="'Liberation Sans', sans-serif" font-size="65.0" font-weight="400" fill="#1c60d8" textLength="148.38" lengthAdjust="spacingAndGlyphs" stroke="#fff" stroke-width="0.9">eQTL</text>
<text x="1794.00" y="770.60" font-family="'Liberation Sans', 'Noto Sans CJK JP', sans-serif" font-size="55.5" font-weight="400" fill="#1c60d8" textLength="681.32" lengthAdjust="spacing">の作用のみを持つ遺伝子座</text>
<text x="1730.70" y="1231.30" font-family="'Liberation Sans', sans-serif" font-size="40.5" font-weight="400" fill="#1e1e1e" transform="rotate(-45 1730.70 1231.30)">0.6%</text>
<text x="2391.40" y="899.90" font-family="'Liberation Sans', sans-serif" font-size="40.5" font-weight="400" fill="#1e1e1e" transform="rotate(-45 2391.40 899.90)">50.3%</text>
</svg></body></html>
